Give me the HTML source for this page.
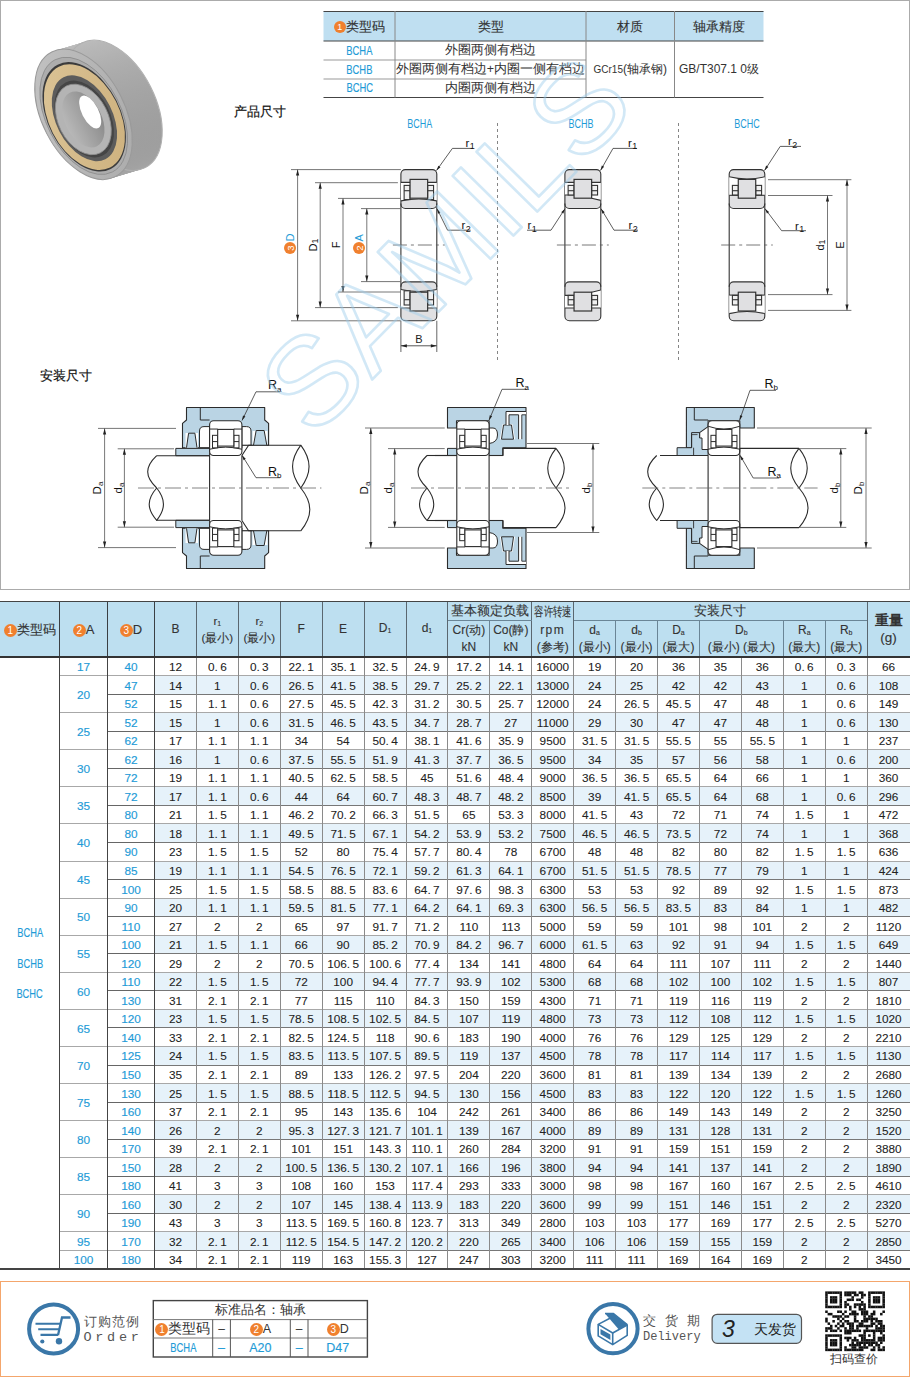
<!DOCTYPE html><html><head><meta charset="utf-8"><style>
*{box-sizing:border-box;margin:0;padding:0}
html,body{width:910px;height:1377px;overflow:hidden;background:#fff}
body{position:relative;font-family:"Liberation Sans",sans-serif;color:#222}
.a{position:absolute}
.cn{-webkit-text-stroke:0;display:inline-block;border-radius:50%;background:#f0802e;color:#fff;text-align:center;font-weight:normal;vertical-align:middle;font-family:"Liberation Sans",sans-serif}
.cell{position:absolute;display:flex;align-items:center;justify-content:center;text-align:center;white-space:nowrap}
.cd{display:inline-block;transform:scaleX(0.75)}
.hd{font-size:12.5px;color:#333;line-height:17px;-webkit-text-stroke:0.12px #333}
.dt{font-size:11.8px;color:#222;padding-top:1.5px;-webkit-text-stroke:0.08px #222}
.bl{color:#1e9bd7;-webkit-text-stroke:0.15px #1e9bd7}
</style></head><body><div class="a" style="left:0;top:0;width:910px;height:590px;border:1px solid #ababab"></div>
<svg class="a" style="left:0;top:0" width="910" height="110"><rect x="323.5" y="11" width="440.0" height="30" fill="#bfdff1"/><line x1="323.5" y1="11.5" x2="763.5" y2="11.5" stroke="#444" stroke-width="1.2"/><line x1="323.5" y1="41" x2="763.5" y2="41" stroke="#444" stroke-width="1.2"/><line x1="323.5" y1="97.5" x2="763.5" y2="97.5" stroke="#444" stroke-width="1.2"/><line x1="323.5" y1="60" x2="586" y2="60" stroke="#999" stroke-width="1"/><line x1="323.5" y1="79" x2="586" y2="79" stroke="#999" stroke-width="1"/><line x1="395" y1="11" x2="395" y2="97.5" stroke="#888" stroke-width="1"/><line x1="586" y1="11" x2="586" y2="97.5" stroke="#888" stroke-width="1"/><line x1="674.5" y1="11" x2="674.5" y2="97.5" stroke="#888" stroke-width="1"/></svg>
<div class="cell hd" style="left:323.5px;top:11px;width:71.5px;height:30px;font-size:13px"><div><span class="cn" style="width:12px;height:12px;line-height:12px;font-size:9px">1</span>类型码</div></div>
<div class="cell hd" style="left:395px;top:11px;width:191px;height:30px;font-size:13px"><div>类型</div></div>
<div class="cell hd" style="left:586px;top:11px;width:88.5px;height:30px;font-size:13px"><div>材质</div></div>
<div class="cell hd" style="left:674.5px;top:11px;width:89.0px;height:30px;font-size:13px"><div>轴承精度</div></div>
<div class="cell bl" style="left:323.5px;top:41px;width:71.5px;height:19px;font-size:12.5px"><div><span class="cd">BCHA</span></div></div>
<div class="cell " style="left:395px;top:41px;width:191px;height:19px;font-size:12.5px;color:#333"><div>外圈两侧有档边</div></div>
<div class="cell bl" style="left:323.5px;top:60px;width:71.5px;height:19px;font-size:12.5px"><div><span class="cd">BCHB</span></div></div>
<div class="cell " style="left:395px;top:60px;width:191px;height:19px;font-size:12.5px;color:#333"><div>外圈两侧有档边+内圈一侧有档边</div></div>
<div class="cell bl" style="left:323.5px;top:79px;width:71.5px;height:18.5px;font-size:12.5px"><div><span class="cd">BCHC</span></div></div>
<div class="cell " style="left:395px;top:79px;width:191px;height:18.5px;font-size:12.5px;color:#333"><div>内圈两侧有档边</div></div>
<div class="cell " style="left:586px;top:41px;width:88.5px;height:56.5px;font-size:12px;color:#333"><div><span style="font-size:10px">GCr15</span>(轴承钢)</div></div>
<div class="cell " style="left:674.5px;top:41px;width:89.0px;height:56.5px;font-size:12px;color:#333"><div>GB/T307.1 0级</div></div>
<svg class="a" style="left:0;top:0" width="910" height="600" font-family="Liberation Sans, sans-serif"><text x="419.7" y="127.8" font-size="12" fill="#1e9bd7" text-anchor="middle" transform="translate(419.7,0) scale(0.75,1) translate(-419.7,0)">BCHA</text><text x="581" y="127.8" font-size="12" fill="#1e9bd7" text-anchor="middle" transform="translate(581,0) scale(0.75,1) translate(-581,0)">BCHB</text><text x="747" y="127.8" font-size="12" fill="#1e9bd7" text-anchor="middle" transform="translate(747,0) scale(0.75,1) translate(-747,0)">BCHC</text><line x1="497.50" y1="123.00" x2="497.50" y2="360.00" stroke="#777" stroke-width="0.9" stroke-dasharray="3,3"/><line x1="678.50" y1="123.00" x2="678.50" y2="360.00" stroke="#777" stroke-width="0.9" stroke-dasharray="3,3"/><rect x="400.90" y="169.60" width="35.90" height="38.90" rx="4.5" ry="4.5" fill="#e0e0e2" stroke="#333" stroke-width="1.1"/><path d="M400.90,182.40 L436.80,182.40 L436.80,200.90 Q418.85,197.00 400.90,200.90 Z" fill="#fff" stroke="none" stroke-width="0" stroke-linejoin="round" /><line x1="400.90" y1="182.40" x2="436.80" y2="182.40" stroke="#333" stroke-width="1.1" /><path d="M400.90,200.90 Q418.85,197.00 436.80,200.90" fill="none" stroke="#333" stroke-width="1.1" stroke-linejoin="round" /><rect x="404.13" y="185.40" width="5.92" height="14.20" fill="#f0f0f0" stroke="#333" stroke-width="1.1"/><line x1="404.13" y1="190.70" x2="410.05" y2="190.70" stroke="#333" stroke-width="1.1" /><rect x="427.65" y="185.40" width="5.92" height="14.20" fill="#f0f0f0" stroke="#333" stroke-width="1.1"/><line x1="427.65" y1="190.70" x2="433.57" y2="190.70" stroke="#333" stroke-width="1.1" /><rect x="410.05" y="179.40" width="17.59" height="18.80" fill="#e0e0e2" stroke="#333" stroke-width="1.2"/><rect x="400.90" y="281.90" width="35.90" height="38.90" rx="4.5" ry="4.5" fill="#e0e0e2" stroke="#333" stroke-width="1.1"/><path d="M400.90,308.00 L436.80,308.00 L436.80,289.50 Q418.85,293.40 400.90,289.50 Z" fill="#fff" stroke="none" stroke-width="0" stroke-linejoin="round" /><line x1="400.90" y1="308.00" x2="436.80" y2="308.00" stroke="#333" stroke-width="1.1" /><path d="M400.90,289.50 Q418.85,293.40 436.80,289.50" fill="none" stroke="#333" stroke-width="1.1" stroke-linejoin="round" /><rect x="404.13" y="290.80" width="5.92" height="14.20" fill="#f0f0f0" stroke="#333" stroke-width="1.1"/><line x1="404.13" y1="299.70" x2="410.05" y2="299.70" stroke="#333" stroke-width="1.1" /><rect x="427.65" y="290.80" width="5.92" height="14.20" fill="#f0f0f0" stroke="#333" stroke-width="1.1"/><line x1="427.65" y1="299.70" x2="433.57" y2="299.70" stroke="#333" stroke-width="1.1" /><rect x="410.05" y="292.20" width="17.59" height="18.80" fill="#e0e0e2" stroke="#333" stroke-width="1.2"/><line x1="400.90" y1="203.60" x2="400.90" y2="286.80" stroke="#333" stroke-width="1.1" /><line x1="436.80" y1="203.60" x2="436.80" y2="286.80" stroke="#333" stroke-width="1.1" /><line x1="392.90" y1="245.00" x2="444.80" y2="245.00" stroke="#555" stroke-width="0.8" stroke-dasharray="14,4,3,4"/><line x1="291.00" y1="169.60" x2="400.90" y2="169.60" stroke="#666" stroke-width="0.9" /><line x1="291.00" y1="320.80" x2="400.90" y2="320.80" stroke="#666" stroke-width="0.9" /><line x1="297.60" y1="169.60" x2="297.60" y2="320.80" stroke="#555" stroke-width="0.8" /><path d="M297.60,169.60 L299.20,175.60 L296.00,175.60 Z" fill="#222"/><path d="M297.60,320.80 L296.00,314.80 L299.20,314.80 Z" fill="#222"/><line x1="315.00" y1="182.70" x2="397.90" y2="182.70" stroke="#666" stroke-width="0.9" /><line x1="315.00" y1="307.60" x2="397.90" y2="307.60" stroke="#666" stroke-width="0.9" /><line x1="320.20" y1="182.70" x2="320.20" y2="307.60" stroke="#555" stroke-width="0.8" /><path d="M320.20,182.70 L321.80,188.70 L318.60,188.70 Z" fill="#222"/><path d="M320.20,307.60 L318.60,301.60 L321.80,301.60 Z" fill="#222"/><line x1="338.00" y1="198.40" x2="400.90" y2="198.40" stroke="#666" stroke-width="0.9" /><line x1="338.00" y1="292.00" x2="400.90" y2="292.00" stroke="#666" stroke-width="0.9" /><line x1="343.00" y1="198.40" x2="343.00" y2="292.00" stroke="#555" stroke-width="0.8" /><path d="M343.00,198.40 L344.60,204.40 L341.40,204.40 Z" fill="#222"/><path d="M343.00,292.00 L341.40,286.00 L344.60,286.00 Z" fill="#222"/><line x1="361.00" y1="208.60" x2="400.90" y2="208.60" stroke="#666" stroke-width="0.9" /><line x1="361.00" y1="281.60" x2="400.90" y2="281.60" stroke="#666" stroke-width="0.9" /><line x1="366.80" y1="208.60" x2="366.80" y2="281.60" stroke="#555" stroke-width="0.8" /><path d="M366.80,208.60 L368.40,214.60 L365.20,214.60 Z" fill="#222"/><path d="M366.80,281.60 L365.20,275.60 L368.40,275.60 Z" fill="#222"/><line x1="400.90" y1="320.80" x2="400.90" y2="352.00" stroke="#555" stroke-width="0.9" /><line x1="436.80" y1="320.80" x2="436.80" y2="352.00" stroke="#555" stroke-width="0.9" /><line x1="400.90" y1="345.80" x2="436.80" y2="345.80" stroke="#444" stroke-width="0.9" /><path d="M400.90,345.80 L406.90,344.20 L406.90,347.40 Z" fill="#222"/><path d="M436.80,345.80 L430.80,347.40 L430.80,344.20 Z" fill="#222"/><text x="418.80" y="343.00" font-size="11" fill="#222" text-anchor="middle" >B</text><g transform="translate(290,244) rotate(-90)"><circle cx="-4" cy="0" r="6" fill="#f0802e"/><text x="-4" y="3.6" font-size="9.5" fill="#fff" text-anchor="middle">3</text><text x="2.5" y="4" font-size="11" fill="#1e9bd7">D</text></g><text x="0" y="0" transform="translate(317.00,245.00) rotate(-90)" font-size="11" fill="#111" text-anchor="middle" >D<tspan font-size="9" dy="1.2">1</tspan></text><text x="0" y="0" transform="translate(339.50,245.00) rotate(-90)" font-size="11" fill="#111" text-anchor="middle" >F</text><g transform="translate(359,243) rotate(-90)"><circle cx="-5" cy="0" r="6" fill="#f0802e"/><text x="-5" y="3.6" font-size="9.5" fill="#fff" text-anchor="middle">2</text><text x="1.5" y="4" font-size="11" fill="#1e9bd7">A</text></g><line x1="436.50" y1="170.50" x2="452.40" y2="148.40" stroke="#333" stroke-width="0.8" /><line x1="452.40" y1="148.40" x2="472.30" y2="148.40" stroke="#333" stroke-width="0.8" /><path d="M436.50,170.50 L438.36,165.68 L440.48,167.20 Z" fill="#222"/><text x="465.50" y="146.80" font-size="11.5" fill="#111">r<tspan font-size="9" dx="0.5" dy="2.5">1</tspan></text><line x1="437.00" y1="208.70" x2="447.60" y2="230.20" stroke="#333" stroke-width="0.8" /><line x1="447.60" y1="230.20" x2="470.70" y2="230.20" stroke="#333" stroke-width="0.8" /><path d="M437.00,208.70 L440.38,212.61 L438.05,213.76 Z" fill="#222"/><text x="461.50" y="229.00" font-size="11.5" fill="#111">r<tspan font-size="9" dx="0.5" dy="2.5">2</tspan></text><rect x="564.90" y="169.60" width="35.90" height="38.90" rx="4.5" ry="4.5" fill="#e0e0e2" stroke="#333" stroke-width="1.1"/><path d="M564.90,182.40 L600.80,182.40 L600.80,200.40 L591.65,198.20 L574.05,198.20 L574.05,195.00 L564.90,195.00 Z" fill="#fff" stroke="none" stroke-width="0" stroke-linejoin="round" /><line x1="564.90" y1="182.40" x2="600.80" y2="182.40" stroke="#333" stroke-width="1.1" /><path d="M564.90,195.00 L574.05,195.00 M591.65,198.20 L600.80,200.40" fill="none" stroke="#333" stroke-width="1.1" stroke-linejoin="round" /><rect x="568.13" y="185.40" width="5.92" height="9.60" fill="#f0f0f0" stroke="#333" stroke-width="1.1"/><line x1="568.13" y1="190.70" x2="574.05" y2="190.70" stroke="#333" stroke-width="1.1" /><rect x="591.65" y="185.40" width="5.92" height="9.60" fill="#f0f0f0" stroke="#333" stroke-width="1.1"/><line x1="591.65" y1="190.70" x2="597.57" y2="190.70" stroke="#333" stroke-width="1.1" /><rect x="574.05" y="179.40" width="17.59" height="18.80" fill="#e0e0e2" stroke="#333" stroke-width="1.2"/><rect x="564.90" y="281.90" width="35.90" height="38.90" rx="4.5" ry="4.5" fill="#e0e0e2" stroke="#333" stroke-width="1.1"/><path d="M564.90,308.00 L600.80,308.00 L600.80,290.00 L591.65,292.20 L574.05,292.20 L574.05,295.40 L564.90,295.40 Z" fill="#fff" stroke="none" stroke-width="0" stroke-linejoin="round" /><line x1="564.90" y1="308.00" x2="600.80" y2="308.00" stroke="#333" stroke-width="1.1" /><path d="M564.90,295.40 L574.05,295.40 M591.65,292.20 L600.80,290.00" fill="none" stroke="#333" stroke-width="1.1" stroke-linejoin="round" /><rect x="568.13" y="295.40" width="5.92" height="9.60" fill="#f0f0f0" stroke="#333" stroke-width="1.1"/><line x1="568.13" y1="299.70" x2="574.05" y2="299.70" stroke="#333" stroke-width="1.1" /><rect x="591.65" y="295.40" width="5.92" height="9.60" fill="#f0f0f0" stroke="#333" stroke-width="1.1"/><line x1="591.65" y1="299.70" x2="597.57" y2="299.70" stroke="#333" stroke-width="1.1" /><rect x="574.05" y="292.20" width="17.59" height="18.80" fill="#e0e0e2" stroke="#333" stroke-width="1.2"/><line x1="564.90" y1="203.60" x2="564.90" y2="286.80" stroke="#333" stroke-width="1.1" /><line x1="600.80" y1="203.60" x2="600.80" y2="286.80" stroke="#333" stroke-width="1.1" /><line x1="556.90" y1="245.00" x2="608.80" y2="245.00" stroke="#555" stroke-width="0.8" stroke-dasharray="14,4,3,4"/><line x1="600.50" y1="170.50" x2="613.00" y2="148.40" stroke="#333" stroke-width="0.8" /><line x1="613.00" y1="148.40" x2="637.00" y2="148.40" stroke="#333" stroke-width="0.8" /><path d="M600.50,170.50 L601.83,165.51 L604.09,166.79 Z" fill="#222"/><text x="628.00" y="146.80" font-size="11.5" fill="#111">r<tspan font-size="9" dx="0.5" dy="2.5">1</tspan></text><line x1="565.00" y1="208.70" x2="551.00" y2="230.20" stroke="#333" stroke-width="0.8" /><line x1="551.00" y1="230.20" x2="527.00" y2="230.20" stroke="#333" stroke-width="0.8" /><path d="M565.00,208.70 L563.36,213.60 L561.18,212.18 Z" fill="#222"/><text x="527.50" y="229.00" font-size="11.5" fill="#111">r<tspan font-size="9" dx="0.5" dy="2.5">1</tspan></text><line x1="601.00" y1="208.70" x2="614.00" y2="230.20" stroke="#333" stroke-width="0.8" /><line x1="614.00" y1="230.20" x2="638.00" y2="230.20" stroke="#333" stroke-width="0.8" /><path d="M601.00,208.70 L604.70,212.31 L602.47,213.65 Z" fill="#222"/><text x="628.50" y="229.00" font-size="11.5" fill="#111">r<tspan font-size="9" dx="0.5" dy="2.5">2</tspan></text><rect x="729.20" y="169.60" width="35.60" height="38.90" rx="4.5" ry="4.5" fill="#e0e0e2" stroke="#333" stroke-width="1.1"/><path d="M729.20,176.80 Q747.00,181.10 764.80,176.80 L764.80,195.30 L729.20,195.30 Z" fill="#fff" stroke="none" stroke-width="0" stroke-linejoin="round" /><path d="M729.20,176.80 Q747.00,181.10 764.80,176.80" fill="none" stroke="#333" stroke-width="1.1" stroke-linejoin="round" /><line x1="729.20" y1="195.30" x2="738.28" y2="195.30" stroke="#333" stroke-width="1.1" /><line x1="755.72" y1="195.30" x2="764.80" y2="195.30" stroke="#333" stroke-width="1.1" /><rect x="732.40" y="185.40" width="5.87" height="9.60" fill="#f0f0f0" stroke="#333" stroke-width="1.1"/><line x1="732.40" y1="190.70" x2="738.28" y2="190.70" stroke="#333" stroke-width="1.1" /><rect x="755.72" y="185.40" width="5.87" height="9.60" fill="#f0f0f0" stroke="#333" stroke-width="1.1"/><line x1="755.72" y1="190.70" x2="761.60" y2="190.70" stroke="#333" stroke-width="1.1" /><rect x="738.28" y="179.40" width="17.44" height="18.80" fill="#e0e0e2" stroke="#333" stroke-width="1.2"/><rect x="729.20" y="281.90" width="35.60" height="38.90" rx="4.5" ry="4.5" fill="#e0e0e2" stroke="#333" stroke-width="1.1"/><path d="M729.20,313.60 Q747.00,309.30 764.80,313.60 L764.80,295.10 L729.20,295.10 Z" fill="#fff" stroke="none" stroke-width="0" stroke-linejoin="round" /><path d="M729.20,313.60 Q747.00,309.30 764.80,313.60" fill="none" stroke="#333" stroke-width="1.1" stroke-linejoin="round" /><line x1="729.20" y1="295.10" x2="738.28" y2="295.10" stroke="#333" stroke-width="1.1" /><line x1="755.72" y1="295.10" x2="764.80" y2="295.10" stroke="#333" stroke-width="1.1" /><rect x="732.40" y="295.40" width="5.87" height="9.60" fill="#f0f0f0" stroke="#333" stroke-width="1.1"/><line x1="732.40" y1="299.70" x2="738.28" y2="299.70" stroke="#333" stroke-width="1.1" /><rect x="755.72" y="295.40" width="5.87" height="9.60" fill="#f0f0f0" stroke="#333" stroke-width="1.1"/><line x1="755.72" y1="299.70" x2="761.60" y2="299.70" stroke="#333" stroke-width="1.1" /><rect x="738.28" y="292.20" width="17.44" height="18.80" fill="#e0e0e2" stroke="#333" stroke-width="1.2"/><line x1="729.20" y1="203.60" x2="729.20" y2="286.80" stroke="#333" stroke-width="1.1" /><line x1="764.80" y1="203.60" x2="764.80" y2="286.80" stroke="#333" stroke-width="1.1" /><line x1="721.20" y1="245.00" x2="772.80" y2="245.00" stroke="#555" stroke-width="0.8" stroke-dasharray="14,4,3,4"/><line x1="764.50" y1="170.50" x2="780.20" y2="146.40" stroke="#333" stroke-width="0.8" /><line x1="780.20" y1="146.40" x2="801.00" y2="146.40" stroke="#333" stroke-width="0.8" /><path d="M764.50,170.50 L766.14,165.60 L768.32,167.02 Z" fill="#222"/><text x="788.00" y="145.00" font-size="11.5" fill="#111">r<tspan font-size="9" dx="0.5" dy="2.5">2</tspan></text><line x1="765.00" y1="208.70" x2="781.60" y2="230.70" stroke="#333" stroke-width="0.8" /><line x1="781.60" y1="230.70" x2="806.00" y2="230.70" stroke="#333" stroke-width="0.8" /><path d="M765.00,208.70 L769.05,211.91 L766.97,213.47 Z" fill="#222"/><text x="795.00" y="229.50" font-size="11.5" fill="#111">r<tspan font-size="9" dx="0.5" dy="2.5">1</tspan></text><line x1="768.00" y1="179.70" x2="851.40" y2="179.70" stroke="#666" stroke-width="0.9" /><line x1="768.00" y1="310.40" x2="851.40" y2="310.40" stroke="#666" stroke-width="0.9" /><line x1="847.00" y1="179.70" x2="847.00" y2="310.40" stroke="#555" stroke-width="0.8" /><path d="M847.00,179.70 L848.60,185.70 L845.40,185.70 Z" fill="#222"/><path d="M847.00,310.40 L845.40,304.40 L848.60,304.40 Z" fill="#222"/><line x1="768.00" y1="195.50" x2="832.50" y2="195.50" stroke="#666" stroke-width="0.9" /><line x1="768.00" y1="294.60" x2="832.50" y2="294.60" stroke="#666" stroke-width="0.9" /><line x1="827.50" y1="195.50" x2="827.50" y2="294.60" stroke="#555" stroke-width="0.8" /><path d="M827.50,195.50 L829.10,201.50 L825.90,201.50 Z" fill="#222"/><path d="M827.50,294.60 L825.90,288.60 L829.10,288.60 Z" fill="#222"/><text x="0" y="0" transform="translate(823.50,245.00) rotate(-90)" font-size="11" fill="#111" text-anchor="middle" >d<tspan font-size="9" dy="1.2">1</tspan></text><text x="0" y="0" transform="translate(843.50,245.00) rotate(-90)" font-size="11" fill="#111" text-anchor="middle" >E</text></svg>
<svg class="a" style="left:0;top:0" width="910" height="600" font-family="Liberation Sans, sans-serif"><path d="M186.5,407.5 H264.7 V420 L268.6,423.4 V445.2 H241.9 V447.7 H182.5 V423.4 L186.5,420 Z" fill="#bad4e4" stroke="#2b2b2b" stroke-width="1.1" stroke-linejoin="round" /><path d="M200.3,407.5 V420 H209.6" fill="none" stroke="#2b2b2b" stroke-width="1.0" stroke-linejoin="round" /><path d="M209.6,426.6 H204 Q199.5,426.6 199.5,431 V447.7 H209.6 Z" fill="#fff" stroke="#2b2b2b" stroke-width="1.0" stroke-linejoin="round" /><path d="M241.9,426.6 H246.5 Q251,426.6 251,431 V445.2 H241.9 Z" fill="#fff" stroke="#2b2b2b" stroke-width="1.0" stroke-linejoin="round" /><path d="M185.5,447.7 V433 H198 V447.7" fill="#fff" stroke="none" stroke-width="0" stroke-linejoin="round" /><path d="M186.50,447.70 L188.60,433.20 L194.90,433.20 L197.00,447.70" fill="#bad4e4" stroke="#2b2b2b" stroke-width="1.0" stroke-linejoin="round" /><path d="M252.5,445.2 V431 H267.5 V445.2" fill="#fff" stroke="none" stroke-width="0" stroke-linejoin="round" /><path d="M253.50,445.20 L256.16,430.50 L264.14,430.50 L266.80,445.20" fill="#bad4e4" stroke="#2b2b2b" stroke-width="1.0" stroke-linejoin="round" /><path d="M175.8,448.4 H209.6 V455.7 H175.8 Z" fill="#bad4e4" stroke="#2b2b2b" stroke-width="1.0" stroke-linejoin="round" /><rect x="209.60" y="420.70" width="32.30" height="34.80" rx="4" ry="4" fill="#fff" stroke="#2b2b2b" stroke-width="1.1"/><line x1="209.60" y1="429.05" x2="217.68" y2="429.05" stroke="#2b2b2b" stroke-width="1.0" /><line x1="233.82" y1="429.05" x2="241.90" y2="429.05" stroke="#2b2b2b" stroke-width="1.0" /><path d="M209.60,449.24 Q225.75,445.06 241.90,449.24" fill="none" stroke="#2b2b2b" stroke-width="1.0" stroke-linejoin="round" /><rect x="212.51" y="435.32" width="5.17" height="12.53" fill="#fff" stroke="#2b2b2b" stroke-width="1.0"/><line x1="212.51" y1="441.58" x2="217.68" y2="441.58" stroke="#2b2b2b" stroke-width="1.0" /><rect x="233.82" y="435.32" width="5.17" height="12.53" fill="#fff" stroke="#2b2b2b" stroke-width="1.0"/><line x1="233.82" y1="441.58" x2="238.99" y2="441.58" stroke="#2b2b2b" stroke-width="1.0" /><rect x="217.68" y="429.40" width="16.15" height="16.70" fill="#fff" stroke="#2b2b2b" stroke-width="1.1"/><g transform="matrix(1,0,0,-1,0,976.0)"><path d="M186.5,407.5 H264.7 V420 L268.6,423.4 V445.2 H241.9 V447.7 H182.5 V423.4 L186.5,420 Z" fill="#bad4e4" stroke="#2b2b2b" stroke-width="1.1" stroke-linejoin="round" /><path d="M200.3,407.5 V420 H209.6" fill="none" stroke="#2b2b2b" stroke-width="1.0" stroke-linejoin="round" /><path d="M209.6,426.6 H204 Q199.5,426.6 199.5,431 V447.7 H209.6 Z" fill="#fff" stroke="#2b2b2b" stroke-width="1.0" stroke-linejoin="round" /><path d="M241.9,426.6 H246.5 Q251,426.6 251,431 V445.2 H241.9 Z" fill="#fff" stroke="#2b2b2b" stroke-width="1.0" stroke-linejoin="round" /><path d="M185.5,447.7 V433 H198 V447.7" fill="#fff" stroke="none" stroke-width="0" stroke-linejoin="round" /><path d="M186.50,447.70 L188.60,433.20 L194.90,433.20 L197.00,447.70" fill="#bad4e4" stroke="#2b2b2b" stroke-width="1.0" stroke-linejoin="round" /><path d="M252.5,445.2 V431 H267.5 V445.2" fill="#fff" stroke="none" stroke-width="0" stroke-linejoin="round" /><path d="M253.50,445.20 L256.16,430.50 L264.14,430.50 L266.80,445.20" fill="#bad4e4" stroke="#2b2b2b" stroke-width="1.0" stroke-linejoin="round" /><path d="M175.8,448.4 H209.6 V455.7 H175.8 Z" fill="#bad4e4" stroke="#2b2b2b" stroke-width="1.0" stroke-linejoin="round" /><rect x="209.60" y="420.70" width="32.30" height="34.80" rx="4" ry="4" fill="#fff" stroke="#2b2b2b" stroke-width="1.1"/><line x1="209.60" y1="429.05" x2="217.68" y2="429.05" stroke="#2b2b2b" stroke-width="1.0" /><line x1="233.82" y1="429.05" x2="241.90" y2="429.05" stroke="#2b2b2b" stroke-width="1.0" /><path d="M209.60,449.24 Q225.75,445.06 241.90,449.24" fill="none" stroke="#2b2b2b" stroke-width="1.0" stroke-linejoin="round" /><rect x="212.51" y="435.32" width="5.17" height="12.53" fill="#fff" stroke="#2b2b2b" stroke-width="1.0"/><line x1="212.51" y1="441.58" x2="217.68" y2="441.58" stroke="#2b2b2b" stroke-width="1.0" /><rect x="233.82" y="435.32" width="5.17" height="12.53" fill="#fff" stroke="#2b2b2b" stroke-width="1.0"/><line x1="233.82" y1="441.58" x2="238.99" y2="441.58" stroke="#2b2b2b" stroke-width="1.0" /><rect x="217.68" y="429.40" width="16.15" height="16.70" fill="#fff" stroke="#2b2b2b" stroke-width="1.1"/></g><line x1="156.70" y1="455.70" x2="209.60" y2="455.70" stroke="#2b2b2b" stroke-width="1.1" /><line x1="156.70" y1="520.30" x2="209.60" y2="520.30" stroke="#2b2b2b" stroke-width="1.1" /><path d="M241.9,455.5 L248.6,445.2 H300.8" fill="none" stroke="#2b2b2b" stroke-width="1.1" stroke-linejoin="round" /><path d="M241.9,520.5 L248.6,530.8 H300.8" fill="none" stroke="#2b2b2b" stroke-width="1.1" stroke-linejoin="round" /><line x1="209.60" y1="455.50" x2="209.60" y2="520.50" stroke="#2b2b2b" stroke-width="1.1" /><line x1="241.90" y1="455.50" x2="241.90" y2="520.50" stroke="#2b2b2b" stroke-width="1.1" /><path d="M156.70,455.70 C144.70,467.00 144.70,476.69 156.70,488.00" fill="none" stroke="#2b2b2b" stroke-width="1.1" stroke-linejoin="round" /><path d="M156.70,488.00 C146.70,499.31 146.70,508.99 156.70,520.30 C165.70,508.99 165.70,499.31 156.70,488.00" fill="none" stroke="#2b2b2b" stroke-width="1.1" stroke-linejoin="round" /><path d="M300.80,445.20 C289.80,460.18 289.80,473.02 300.80,488.00 C311.80,473.02 311.80,460.18 300.80,445.20" fill="none" stroke="#2b2b2b" stroke-width="1.1" stroke-linejoin="round" /><path d="M300.80,488.00 C312.80,502.98 312.80,515.82 300.80,530.80" fill="none" stroke="#2b2b2b" stroke-width="1.1" stroke-linejoin="round" /><line x1="138.00" y1="488.00" x2="321.40" y2="488.00" stroke="#666" stroke-width="0.8" stroke-dasharray="16,4,3,4"/><line x1="98.00" y1="428.40" x2="176.00" y2="428.40" stroke="#666" stroke-width="0.9" /><line x1="98.00" y1="547.60" x2="176.00" y2="547.60" stroke="#666" stroke-width="0.9" /><line x1="117.70" y1="448.80" x2="174.00" y2="448.80" stroke="#666" stroke-width="0.9" /><line x1="117.70" y1="527.20" x2="174.00" y2="527.20" stroke="#666" stroke-width="0.9" /><line x1="104.60" y1="428.40" x2="104.60" y2="547.60" stroke="#555" stroke-width="0.8" /><path d="M104.60,428.40 L106.20,434.40 L103.00,434.40 Z" fill="#222"/><path d="M104.60,547.60 L103.00,541.60 L106.20,541.60 Z" fill="#222"/><line x1="124.40" y1="448.80" x2="124.40" y2="527.20" stroke="#555" stroke-width="0.8" /><path d="M124.40,448.80 L126.00,454.80 L122.80,454.80 Z" fill="#222"/><path d="M124.40,527.20 L122.80,521.20 L126.00,521.20 Z" fill="#222"/><text x="0" y="0" transform="translate(100.50,488.00) rotate(-90)" font-size="11.5" fill="#111" text-anchor="middle" >D<tspan font-size="8" dy="2">a</tspan></text><text x="0" y="0" transform="translate(121.50,488.00) rotate(-90)" font-size="11.5" fill="#111" text-anchor="middle" >d<tspan font-size="8" dy="2">a</tspan></text><line x1="242.00" y1="420.50" x2="256.00" y2="391.80" stroke="#333" stroke-width="0.8" /><line x1="256.00" y1="391.80" x2="280.00" y2="391.80" stroke="#333" stroke-width="0.8" /><path d="M242.00,420.50 L243.02,415.44 L245.36,416.58 Z" fill="#222"/><text x="268.00" y="389.00" font-size="12.5" fill="#111">R<tspan font-size="8" dy="2.5">a</tspan></text><line x1="242.00" y1="455.30" x2="256.00" y2="477.70" stroke="#333" stroke-width="0.8" /><line x1="256.00" y1="477.70" x2="280.00" y2="477.70" stroke="#333" stroke-width="0.8" /><path d="M242.00,455.30 L245.75,458.85 L243.55,460.23 Z" fill="#222"/><text x="268.00" y="475.50" font-size="12.5" fill="#111">R<tspan font-size="8" dy="2.5">b</tspan></text><path d="M447.5,407.5 H526 V447.7 H502.9 V455.5 H489.1 V420.7 H456.5 V428 H447.5 Z" fill="#bad4e4" stroke="#2b2b2b" stroke-width="1.1" stroke-linejoin="round" /><path d="M489.1,428 H493 Q497.5,428 497.5,435 Q497.5,442.5 489.1,443.5 Z" fill="#fff" stroke="#2b2b2b" stroke-width="1.0" stroke-linejoin="round" /><path d="M500,439.2 L502.5,424.2 H512.5 L515,439.2 Z" fill="#fff" stroke="none" stroke-width="0" stroke-linejoin="round" /><path d="M501.5,439.2 L503.5,425 H511.5 L513.5,439.2 Z" fill="#bad4e4" stroke="#2b2b2b" stroke-width="1.0" stroke-linejoin="round" /><path d="M506,425 V411.5 H526 V414.8 H521.8 V439.2 H518.6 V414.8 H509 V425 Z" fill="#fff" stroke="none" stroke-width="0" stroke-linejoin="round" /><path d="M506,425 V411.5 H526" fill="none" stroke="#2b2b2b" stroke-width="1.0" stroke-linejoin="round" /><path d="M509,425 V414.8 H518.6 V439.2" fill="none" stroke="#2b2b2b" stroke-width="1.0" stroke-linejoin="round" /><path d="M521.8,439.2 V414.8 H526" fill="none" stroke="#2b2b2b" stroke-width="0.9" stroke-linejoin="round" /><path d="M447.5,448.4 H456.8 V455.5 H447.5 Z" fill="#bad4e4" stroke="#2b2b2b" stroke-width="1.0" stroke-linejoin="round" /><rect x="456.80" y="420.70" width="32.30" height="34.80" rx="4" ry="4" fill="#fff" stroke="#2b2b2b" stroke-width="1.1"/><line x1="456.80" y1="429.05" x2="464.88" y2="429.05" stroke="#2b2b2b" stroke-width="1.0" /><line x1="481.03" y1="429.05" x2="489.10" y2="429.05" stroke="#2b2b2b" stroke-width="1.0" /><path d="M456.80,449.24 Q472.95,445.06 489.10,449.24" fill="none" stroke="#2b2b2b" stroke-width="1.0" stroke-linejoin="round" /><rect x="459.71" y="435.32" width="5.17" height="12.53" fill="#fff" stroke="#2b2b2b" stroke-width="1.0"/><line x1="459.71" y1="441.58" x2="464.88" y2="441.58" stroke="#2b2b2b" stroke-width="1.0" /><rect x="481.03" y="435.32" width="5.17" height="12.53" fill="#fff" stroke="#2b2b2b" stroke-width="1.0"/><line x1="481.03" y1="441.58" x2="486.19" y2="441.58" stroke="#2b2b2b" stroke-width="1.0" /><rect x="464.88" y="429.40" width="16.15" height="16.70" fill="#fff" stroke="#2b2b2b" stroke-width="1.1"/><g transform="matrix(1,0,0,-1,0,976.0)"><path d="M447.5,407.5 H526 V447.7 H502.9 V455.5 H489.1 V420.7 H456.5 V428 H447.5 Z" fill="#bad4e4" stroke="#2b2b2b" stroke-width="1.1" stroke-linejoin="round" /><path d="M489.1,428 H493 Q497.5,428 497.5,435 Q497.5,442.5 489.1,443.5 Z" fill="#fff" stroke="#2b2b2b" stroke-width="1.0" stroke-linejoin="round" /><path d="M500,439.2 L502.5,424.2 H512.5 L515,439.2 Z" fill="#fff" stroke="none" stroke-width="0" stroke-linejoin="round" /><path d="M501.5,439.2 L503.5,425 H511.5 L513.5,439.2 Z" fill="#bad4e4" stroke="#2b2b2b" stroke-width="1.0" stroke-linejoin="round" /><path d="M506,425 V411.5 H526 V414.8 H521.8 V439.2 H518.6 V414.8 H509 V425 Z" fill="#fff" stroke="none" stroke-width="0" stroke-linejoin="round" /><path d="M506,425 V411.5 H526" fill="none" stroke="#2b2b2b" stroke-width="1.0" stroke-linejoin="round" /><path d="M509,425 V414.8 H518.6 V439.2" fill="none" stroke="#2b2b2b" stroke-width="1.0" stroke-linejoin="round" /><path d="M521.8,439.2 V414.8 H526" fill="none" stroke="#2b2b2b" stroke-width="0.9" stroke-linejoin="round" /><path d="M447.5,448.4 H456.8 V455.5 H447.5 Z" fill="#bad4e4" stroke="#2b2b2b" stroke-width="1.0" stroke-linejoin="round" /><rect x="456.80" y="420.70" width="32.30" height="34.80" rx="4" ry="4" fill="#fff" stroke="#2b2b2b" stroke-width="1.1"/><line x1="456.80" y1="429.05" x2="464.88" y2="429.05" stroke="#2b2b2b" stroke-width="1.0" /><line x1="481.03" y1="429.05" x2="489.10" y2="429.05" stroke="#2b2b2b" stroke-width="1.0" /><path d="M456.80,449.24 Q472.95,445.06 489.10,449.24" fill="none" stroke="#2b2b2b" stroke-width="1.0" stroke-linejoin="round" /><rect x="459.71" y="435.32" width="5.17" height="12.53" fill="#fff" stroke="#2b2b2b" stroke-width="1.0"/><line x1="459.71" y1="441.58" x2="464.88" y2="441.58" stroke="#2b2b2b" stroke-width="1.0" /><rect x="481.03" y="435.32" width="5.17" height="12.53" fill="#fff" stroke="#2b2b2b" stroke-width="1.0"/><line x1="481.03" y1="441.58" x2="486.19" y2="441.58" stroke="#2b2b2b" stroke-width="1.0" /><rect x="464.88" y="429.40" width="16.15" height="16.70" fill="#fff" stroke="#2b2b2b" stroke-width="1.1"/></g><line x1="435.00" y1="455.50" x2="456.80" y2="455.50" stroke="#2b2b2b" stroke-width="1.1" /><line x1="435.00" y1="520.50" x2="456.80" y2="520.50" stroke="#2b2b2b" stroke-width="1.1" /><line x1="489.10" y1="455.50" x2="502.90" y2="455.50" stroke="#2b2b2b" stroke-width="1.1" /><line x1="489.10" y1="520.50" x2="502.90" y2="520.50" stroke="#2b2b2b" stroke-width="1.1" /><path d="M502.9,455.5 V448.4 H556" fill="none" stroke="#2b2b2b" stroke-width="1.1" stroke-linejoin="round" /><path d="M502.9,520.5 V527.6 H556" fill="none" stroke="#2b2b2b" stroke-width="1.1" stroke-linejoin="round" /><line x1="456.80" y1="455.50" x2="456.80" y2="520.50" stroke="#2b2b2b" stroke-width="1.1" /><line x1="489.10" y1="455.50" x2="489.10" y2="520.50" stroke="#2b2b2b" stroke-width="1.1" /><path d="M427.00,455.50 C415.00,466.88 415.00,476.62 427.00,488.00" fill="none" stroke="#2b2b2b" stroke-width="1.1" stroke-linejoin="round" /><path d="M427.00,488.00 C417.00,499.38 417.00,509.12 427.00,520.50 C436.00,509.12 436.00,499.38 427.00,488.00" fill="none" stroke="#2b2b2b" stroke-width="1.1" stroke-linejoin="round" /><path d="M556.00,448.40 C545.00,462.26 545.00,474.14 556.00,488.00 C567.00,474.14 567.00,462.26 556.00,448.40" fill="none" stroke="#2b2b2b" stroke-width="1.1" stroke-linejoin="round" /><path d="M556.00,488.00 C568.00,501.86 568.00,513.74 556.00,527.60" fill="none" stroke="#2b2b2b" stroke-width="1.1" stroke-linejoin="round" /><line x1="427.00" y1="455.50" x2="456.80" y2="455.50" stroke="#2b2b2b" stroke-width="1.1" /><line x1="427.00" y1="520.50" x2="456.80" y2="520.50" stroke="#2b2b2b" stroke-width="1.1" /><line x1="411.00" y1="488.00" x2="572.00" y2="488.00" stroke="#666" stroke-width="0.8" stroke-dasharray="16,4,3,4"/><line x1="365.00" y1="428.00" x2="444.70" y2="428.00" stroke="#666" stroke-width="0.9" /><line x1="365.00" y1="548.00" x2="444.70" y2="548.00" stroke="#666" stroke-width="0.9" /><line x1="388.00" y1="448.60" x2="444.70" y2="448.60" stroke="#666" stroke-width="0.9" /><line x1="388.00" y1="527.40" x2="444.70" y2="527.40" stroke="#666" stroke-width="0.9" /><line x1="527.00" y1="443.50" x2="599.30" y2="443.50" stroke="#666" stroke-width="0.9" /><line x1="527.00" y1="532.50" x2="599.30" y2="532.50" stroke="#666" stroke-width="0.9" /><line x1="370.80" y1="428.00" x2="370.80" y2="548.00" stroke="#555" stroke-width="0.8" /><path d="M370.80,428.00 L372.40,434.00 L369.20,434.00 Z" fill="#222"/><path d="M370.80,548.00 L369.20,542.00 L372.40,542.00 Z" fill="#222"/><line x1="394.70" y1="448.60" x2="394.70" y2="527.40" stroke="#555" stroke-width="0.8" /><path d="M394.70,448.60 L396.30,454.60 L393.10,454.60 Z" fill="#222"/><path d="M394.70,527.40 L393.10,521.40 L396.30,521.40 Z" fill="#222"/><line x1="593.00" y1="443.50" x2="593.00" y2="532.50" stroke="#555" stroke-width="0.8" /><path d="M593.00,443.50 L594.60,449.50 L591.40,449.50 Z" fill="#222"/><path d="M593.00,532.50 L591.40,526.50 L594.60,526.50 Z" fill="#222"/><text x="0" y="0" transform="translate(367.50,488.00) rotate(-90)" font-size="11.5" fill="#111" text-anchor="middle" >D<tspan font-size="8" dy="2">a</tspan></text><text x="0" y="0" transform="translate(391.50,488.00) rotate(-90)" font-size="11.5" fill="#111" text-anchor="middle" >d<tspan font-size="8" dy="2">a</tspan></text><text x="0" y="0" transform="translate(590.00,488.00) rotate(-90)" font-size="11.5" fill="#111" text-anchor="middle" >d<tspan font-size="8" dy="2">b</tspan></text><line x1="489.00" y1="420.30" x2="502.00" y2="389.30" stroke="#333" stroke-width="0.8" /><line x1="502.00" y1="389.30" x2="527.50" y2="389.30" stroke="#333" stroke-width="0.8" /><path d="M489.00,420.30 L489.73,415.19 L492.13,416.19 Z" fill="#222"/><text x="515.50" y="387.00" font-size="12.5" fill="#111">R<tspan font-size="8" dy="2.5">a</tspan></text><path d="M686.4,407.5 H754.3 V428 H739.8 V420.7 H708.1 V426.6 L699.6,432.6 V447.7 H686.4 Z" fill="#bad4e4" stroke="#2b2b2b" stroke-width="1.1" stroke-linejoin="round" /><path d="M694.3,407.5 V420 H708.1" fill="none" stroke="#2b2b2b" stroke-width="1.0" stroke-linejoin="round" /><path d="M677.1,447.7 H691.6 V432.6 H699.6 V438 H702 V449.5 H708.1 V455.5 H677.1 Z" fill="#bad4e4" stroke="#2b2b2b" stroke-width="1.0" stroke-linejoin="round" /><path d="M691.6,447.7 V434.6 H697.5" fill="none" stroke="#2b2b2b" stroke-width="0.8" stroke-linejoin="round" /><line x1="693.60" y1="447.70" x2="693.60" y2="455.50" stroke="#2b2b2b" stroke-width="0.9" /><rect x="708.10" y="420.70" width="31.70" height="34.80" rx="4" ry="4" fill="#fff" stroke="#2b2b2b" stroke-width="1.1"/><path d="M708.10,426.27 Q723.95,431.84 739.80,426.27" fill="none" stroke="#2b2b2b" stroke-width="1.0" stroke-linejoin="round" /><path d="M708.10,449.24 Q723.95,445.06 739.80,449.24" fill="none" stroke="#2b2b2b" stroke-width="1.0" stroke-linejoin="round" /><rect x="710.95" y="435.32" width="5.07" height="12.53" fill="#fff" stroke="#2b2b2b" stroke-width="1.0"/><line x1="710.95" y1="441.58" x2="716.02" y2="441.58" stroke="#2b2b2b" stroke-width="1.0" /><rect x="731.88" y="435.32" width="5.07" height="12.53" fill="#fff" stroke="#2b2b2b" stroke-width="1.0"/><line x1="731.88" y1="441.58" x2="736.95" y2="441.58" stroke="#2b2b2b" stroke-width="1.0" /><rect x="716.02" y="429.40" width="15.85" height="16.70" fill="#fff" stroke="#2b2b2b" stroke-width="1.1"/><g transform="matrix(1,0,0,-1,0,976.0)"><path d="M686.4,407.5 H754.3 V428 H739.8 V420.7 H708.1 V426.6 L699.6,432.6 V447.7 H686.4 Z" fill="#bad4e4" stroke="#2b2b2b" stroke-width="1.1" stroke-linejoin="round" /><path d="M694.3,407.5 V420 H708.1" fill="none" stroke="#2b2b2b" stroke-width="1.0" stroke-linejoin="round" /><path d="M677.1,447.7 H691.6 V432.6 H699.6 V438 H702 V449.5 H708.1 V455.5 H677.1 Z" fill="#bad4e4" stroke="#2b2b2b" stroke-width="1.0" stroke-linejoin="round" /><path d="M691.6,447.7 V434.6 H697.5" fill="none" stroke="#2b2b2b" stroke-width="0.8" stroke-linejoin="round" /><line x1="693.60" y1="447.70" x2="693.60" y2="455.50" stroke="#2b2b2b" stroke-width="0.9" /><rect x="708.10" y="420.70" width="31.70" height="34.80" rx="4" ry="4" fill="#fff" stroke="#2b2b2b" stroke-width="1.1"/><path d="M708.10,426.27 Q723.95,431.84 739.80,426.27" fill="none" stroke="#2b2b2b" stroke-width="1.0" stroke-linejoin="round" /><path d="M708.10,449.24 Q723.95,445.06 739.80,449.24" fill="none" stroke="#2b2b2b" stroke-width="1.0" stroke-linejoin="round" /><rect x="710.95" y="435.32" width="5.07" height="12.53" fill="#fff" stroke="#2b2b2b" stroke-width="1.0"/><line x1="710.95" y1="441.58" x2="716.02" y2="441.58" stroke="#2b2b2b" stroke-width="1.0" /><rect x="731.88" y="435.32" width="5.07" height="12.53" fill="#fff" stroke="#2b2b2b" stroke-width="1.0"/><line x1="731.88" y1="441.58" x2="736.95" y2="441.58" stroke="#2b2b2b" stroke-width="1.0" /><rect x="716.02" y="429.40" width="15.85" height="16.70" fill="#fff" stroke="#2b2b2b" stroke-width="1.1"/></g><line x1="660.00" y1="455.50" x2="708.10" y2="455.50" stroke="#2b2b2b" stroke-width="1.1" /><line x1="660.00" y1="520.50" x2="708.10" y2="520.50" stroke="#2b2b2b" stroke-width="1.1" /><line x1="739.80" y1="448.40" x2="799.00" y2="448.40" stroke="#2b2b2b" stroke-width="1.1" /><line x1="739.80" y1="527.60" x2="799.00" y2="527.60" stroke="#2b2b2b" stroke-width="1.1" /><line x1="708.10" y1="455.50" x2="708.10" y2="520.50" stroke="#2b2b2b" stroke-width="1.1" /><line x1="739.80" y1="448.40" x2="739.80" y2="527.60" stroke="#2b2b2b" stroke-width="1.1" /><path d="M656.70,455.50 C644.70,466.88 644.70,476.62 656.70,488.00" fill="none" stroke="#2b2b2b" stroke-width="1.1" stroke-linejoin="round" /><path d="M656.70,488.00 C646.70,499.38 646.70,509.12 656.70,520.50 C665.70,509.12 665.70,499.38 656.70,488.00" fill="none" stroke="#2b2b2b" stroke-width="1.1" stroke-linejoin="round" /><path d="M799.00,448.40 C788.00,462.26 788.00,474.14 799.00,488.00 C810.00,474.14 810.00,462.26 799.00,448.40" fill="none" stroke="#2b2b2b" stroke-width="1.1" stroke-linejoin="round" /><path d="M799.00,488.00 C811.00,501.86 811.00,513.74 799.00,527.60" fill="none" stroke="#2b2b2b" stroke-width="1.1" stroke-linejoin="round" /><line x1="642.30" y1="488.00" x2="817.60" y2="488.00" stroke="#666" stroke-width="0.8" stroke-dasharray="16,4,3,4"/><line x1="799.00" y1="448.60" x2="846.30" y2="448.60" stroke="#666" stroke-width="0.9" /><line x1="799.00" y1="527.40" x2="846.30" y2="527.40" stroke="#666" stroke-width="0.9" /><line x1="757.00" y1="428.00" x2="871.70" y2="428.00" stroke="#666" stroke-width="0.9" /><line x1="757.00" y1="548.00" x2="871.70" y2="548.00" stroke="#666" stroke-width="0.9" /><line x1="840.80" y1="448.60" x2="840.80" y2="527.40" stroke="#555" stroke-width="0.8" /><path d="M840.80,448.60 L842.40,454.60 L839.20,454.60 Z" fill="#222"/><path d="M840.80,527.40 L839.20,521.40 L842.40,521.40 Z" fill="#222"/><line x1="866.00" y1="428.00" x2="866.00" y2="548.00" stroke="#555" stroke-width="0.8" /><path d="M866.00,428.00 L867.60,434.00 L864.40,434.00 Z" fill="#222"/><path d="M866.00,548.00 L864.40,542.00 L867.60,542.00 Z" fill="#222"/><text x="0" y="0" transform="translate(837.50,488.00) rotate(-90)" font-size="11.5" fill="#111" text-anchor="middle" >d<tspan font-size="8" dy="2">b</tspan></text><text x="0" y="0" transform="translate(862.00,488.00) rotate(-90)" font-size="11.5" fill="#111" text-anchor="middle" >D<tspan font-size="8" dy="2">b</tspan></text><line x1="739.60" y1="420.30" x2="750.00" y2="390.30" stroke="#333" stroke-width="0.8" /><line x1="750.00" y1="390.30" x2="776.00" y2="390.30" stroke="#333" stroke-width="0.8" /><path d="M739.60,420.30 L740.01,415.15 L742.47,416.00 Z" fill="#222"/><text x="764.50" y="387.50" font-size="12.5" fill="#111">R<tspan font-size="8" dy="2.5">b</tspan></text><line x1="740.00" y1="455.30" x2="753.20" y2="478.00" stroke="#333" stroke-width="0.8" /><line x1="753.20" y1="478.00" x2="779.30" y2="478.00" stroke="#333" stroke-width="0.8" /><path d="M740.00,455.30 L743.64,458.97 L741.39,460.28 Z" fill="#222"/><text x="767.50" y="475.50" font-size="12.5" fill="#111">R<tspan font-size="8" dy="2.5">a</tspan></text></svg>
<svg class="a" style="left:0;top:0" width="200" height="200"><defs><linearGradient id="cyl" x1="0" y1="0" x2="1" y2="1"><stop offset="0" stop-color="#c8c8c8"/><stop offset="0.5" stop-color="#b4b4b4"/><stop offset="1" stop-color="#959595"/></linearGradient><linearGradient id="face" x1="0" y1="0" x2="1" y2="1"><stop offset="0" stop-color="#c4c4c4"/><stop offset="1" stop-color="#a9a9a9"/></linearGradient><linearGradient id="bore" x1="0" y1="0" x2="1" y2="0"><stop offset="0" stop-color="#b8b8b8"/><stop offset="1" stop-color="#8a8a8a"/></linearGradient><linearGradient id="gold" x1="0" y1="0" x2="1" y2="1"><stop offset="0" stop-color="#dcc598"/><stop offset="1" stop-color="#cdb07c"/></linearGradient></defs><ellipse cx="113.50" cy="105.30" rx="41.5" ry="70" transform="rotate(-27 113.50 105.30)" fill="url(#cyl)"/><ellipse cx="111.83" cy="105.80" rx="41.5" ry="70" transform="rotate(-27 111.83 105.80)" fill="url(#cyl)"/><ellipse cx="110.17" cy="106.30" rx="41.5" ry="70" transform="rotate(-27 110.17 106.30)" fill="url(#cyl)"/><ellipse cx="108.50" cy="106.80" rx="41.5" ry="70" transform="rotate(-27 108.50 106.80)" fill="url(#cyl)"/><ellipse cx="106.83" cy="107.30" rx="41.5" ry="70" transform="rotate(-27 106.83 107.30)" fill="url(#cyl)"/><ellipse cx="105.17" cy="107.80" rx="41.5" ry="70" transform="rotate(-27 105.17 107.80)" fill="url(#cyl)"/><ellipse cx="103.50" cy="108.30" rx="41.5" ry="70" transform="rotate(-27 103.50 108.30)" fill="url(#cyl)"/><ellipse cx="101.83" cy="108.80" rx="41.5" ry="70" transform="rotate(-27 101.83 108.80)" fill="url(#cyl)"/><ellipse cx="100.17" cy="109.30" rx="41.5" ry="70" transform="rotate(-27 100.17 109.30)" fill="url(#cyl)"/><ellipse cx="98.50" cy="109.80" rx="41.5" ry="70" transform="rotate(-27 98.50 109.80)" fill="url(#cyl)"/><ellipse cx="96.83" cy="110.30" rx="41.5" ry="70" transform="rotate(-27 96.83 110.30)" fill="url(#cyl)"/><ellipse cx="95.17" cy="110.80" rx="41.5" ry="70" transform="rotate(-27 95.17 110.80)" fill="url(#cyl)"/><ellipse cx="93.50" cy="111.30" rx="41.5" ry="70" transform="rotate(-27 93.50 111.30)" fill="url(#cyl)"/><ellipse cx="91.83" cy="111.80" rx="41.5" ry="70" transform="rotate(-27 91.83 111.80)" fill="url(#cyl)"/><ellipse cx="90.17" cy="112.30" rx="41.5" ry="70" transform="rotate(-27 90.17 112.30)" fill="url(#cyl)"/><ellipse cx="88.50" cy="112.80" rx="41.5" ry="70" transform="rotate(-27 88.50 112.80)" fill="url(#cyl)"/><ellipse cx="86.83" cy="113.30" rx="41.5" ry="70" transform="rotate(-27 86.83 113.30)" fill="url(#cyl)"/><ellipse cx="85.17" cy="113.80" rx="41.5" ry="70" transform="rotate(-27 85.17 113.80)" fill="url(#cyl)"/><ellipse cx="83.50" cy="114.30" rx="41.5" ry="70" transform="rotate(-27 83.50 114.30)" fill="url(#cyl)"/><ellipse cx="113.50" cy="105.30" rx="41.5" ry="70" transform="rotate(-27 113.50 105.30)" fill="none" stroke="#b0b0b0" stroke-width="1"/><g transform="rotate(-27 83.5 114.3)"><ellipse cx="83.5" cy="114.3" rx="41.5" ry="70" fill="url(#face)" stroke="#9a9a9a" stroke-width="1"/><ellipse cx="83.0" cy="115.8" rx="37.35" ry="63" fill="#adadad" stroke="#8c8c8c" stroke-width="0.8"/><ellipse cx="83.0" cy="116.8" rx="36.1" ry="58.5" fill="#3c3c3c"/><ellipse cx="83.0" cy="117.3" rx="35.27" ry="56.5" fill="url(#gold)"/><ellipse cx="82.5" cy="118.3" rx="28.22" ry="46" fill="#5c5c5c"/><ellipse cx="82.0" cy="118.8" rx="26.14" ry="41" fill="#454545"/><ellipse cx="81.0" cy="118.8" rx="24.9" ry="37.5" fill="#b4b4b4" stroke="#909090" stroke-width="0.8"/><ellipse cx="81.0" cy="118.8" rx="18.26" ry="30" fill="url(#bore)"/><ellipse cx="90.5" cy="115.3" rx="8.3" ry="18" fill="#fff"/></g></svg>
<svg class="a" style="left:0;top:0;pointer-events:none" width="910" height="600"><text x="0" y="0" transform="translate(445,244) rotate(-45.5)" font-family="Liberation Sans, sans-serif" font-size="124" text-anchor="middle" dominant-baseline="central" textLength="465" lengthAdjust="spacingAndGlyphs" fill="none" stroke="#9ccbec" stroke-opacity="0.45" stroke-width="2.6" stroke-linejoin="round">SAMILS</text></svg>
<div class="a" style="left:234px;top:104px;font-size:13px;line-height:16px;color:#111;-webkit-text-stroke:0.2px #111">产品尺寸</div>
<div class="a" style="left:40px;top:368px;font-size:13px;line-height:16px;color:#111;-webkit-text-stroke:0.2px #111">安装尺寸</div>
<svg class="a" style="left:0;top:0" width="910" height="1377" shape-rendering="crispEdges"><rect x="0" y="601.5" width="910" height="55.5" fill="#bddff0"/><rect x="154.5" y="675.5454545454545" width="755.5" height="18.545454545454547" fill="#e6f2fa"/><rect x="154.5" y="712.6363636363636" width="755.5" height="18.545454545454547" fill="#e6f2fa"/><rect x="154.5" y="749.7272727272727" width="755.5" height="18.545454545454547" fill="#e6f2fa"/><rect x="154.5" y="786.8181818181818" width="755.5" height="18.545454545454547" fill="#e6f2fa"/><rect x="154.5" y="823.909090909091" width="755.5" height="18.545454545454547" fill="#e6f2fa"/><rect x="154.5" y="861.0" width="755.5" height="18.545454545454547" fill="#e6f2fa"/><rect x="154.5" y="898.0909090909091" width="755.5" height="18.545454545454547" fill="#e6f2fa"/><rect x="154.5" y="935.1818181818182" width="755.5" height="18.545454545454547" fill="#e6f2fa"/><rect x="154.5" y="972.2727272727273" width="755.5" height="18.545454545454547" fill="#e6f2fa"/><rect x="154.5" y="1009.3636363636364" width="755.5" height="18.545454545454547" fill="#e6f2fa"/><rect x="154.5" y="1046.4545454545455" width="755.5" height="18.545454545454547" fill="#e6f2fa"/><rect x="154.5" y="1083.5454545454545" width="755.5" height="18.545454545454547" fill="#e6f2fa"/><rect x="154.5" y="1120.6363636363637" width="755.5" height="18.545454545454547" fill="#e6f2fa"/><rect x="154.5" y="1157.7272727272727" width="755.5" height="18.545454545454547" fill="#e6f2fa"/><rect x="154.5" y="1194.818181818182" width="755.5" height="18.545454545454547" fill="#e6f2fa"/><rect x="154.5" y="1231.909090909091" width="755.5" height="18.545454545454547" fill="#e6f2fa"/><line x1="59.5" y1="675.55" x2="154.5" y2="675.55" stroke="#a8a8a8" stroke-width="1"/><line x1="154.5" y1="675.55" x2="910" y2="675.55" stroke="#a8a8a8" stroke-width="1"/><line x1="107.5" y1="694.09" x2="154.5" y2="694.09" stroke="#666" stroke-width="1"/><line x1="154.5" y1="694.09" x2="910" y2="694.09" stroke="#777" stroke-width="1"/><line x1="59.5" y1="712.64" x2="154.5" y2="712.64" stroke="#a8a8a8" stroke-width="1"/><line x1="154.5" y1="712.64" x2="910" y2="712.64" stroke="#a8a8a8" stroke-width="1"/><line x1="107.5" y1="731.18" x2="154.5" y2="731.18" stroke="#666" stroke-width="1"/><line x1="154.5" y1="731.18" x2="910" y2="731.18" stroke="#777" stroke-width="1"/><line x1="59.5" y1="749.73" x2="154.5" y2="749.73" stroke="#a8a8a8" stroke-width="1"/><line x1="154.5" y1="749.73" x2="910" y2="749.73" stroke="#a8a8a8" stroke-width="1"/><line x1="107.5" y1="768.27" x2="154.5" y2="768.27" stroke="#666" stroke-width="1"/><line x1="154.5" y1="768.27" x2="910" y2="768.27" stroke="#777" stroke-width="1"/><line x1="59.5" y1="786.82" x2="154.5" y2="786.82" stroke="#a8a8a8" stroke-width="1"/><line x1="154.5" y1="786.82" x2="910" y2="786.82" stroke="#a8a8a8" stroke-width="1"/><line x1="107.5" y1="805.36" x2="154.5" y2="805.36" stroke="#666" stroke-width="1"/><line x1="154.5" y1="805.36" x2="910" y2="805.36" stroke="#777" stroke-width="1"/><line x1="59.5" y1="823.91" x2="154.5" y2="823.91" stroke="#a8a8a8" stroke-width="1"/><line x1="154.5" y1="823.91" x2="910" y2="823.91" stroke="#a8a8a8" stroke-width="1"/><line x1="107.5" y1="842.45" x2="154.5" y2="842.45" stroke="#666" stroke-width="1"/><line x1="154.5" y1="842.45" x2="910" y2="842.45" stroke="#777" stroke-width="1"/><line x1="59.5" y1="861.00" x2="154.5" y2="861.00" stroke="#a8a8a8" stroke-width="1"/><line x1="154.5" y1="861.00" x2="910" y2="861.00" stroke="#a8a8a8" stroke-width="1"/><line x1="107.5" y1="879.55" x2="154.5" y2="879.55" stroke="#666" stroke-width="1"/><line x1="154.5" y1="879.55" x2="910" y2="879.55" stroke="#777" stroke-width="1"/><line x1="59.5" y1="898.09" x2="154.5" y2="898.09" stroke="#a8a8a8" stroke-width="1"/><line x1="154.5" y1="898.09" x2="910" y2="898.09" stroke="#a8a8a8" stroke-width="1"/><line x1="107.5" y1="916.64" x2="154.5" y2="916.64" stroke="#666" stroke-width="1"/><line x1="154.5" y1="916.64" x2="910" y2="916.64" stroke="#777" stroke-width="1"/><line x1="59.5" y1="935.18" x2="154.5" y2="935.18" stroke="#a8a8a8" stroke-width="1"/><line x1="154.5" y1="935.18" x2="910" y2="935.18" stroke="#a8a8a8" stroke-width="1"/><line x1="107.5" y1="953.73" x2="154.5" y2="953.73" stroke="#666" stroke-width="1"/><line x1="154.5" y1="953.73" x2="910" y2="953.73" stroke="#777" stroke-width="1"/><line x1="59.5" y1="972.27" x2="154.5" y2="972.27" stroke="#a8a8a8" stroke-width="1"/><line x1="154.5" y1="972.27" x2="910" y2="972.27" stroke="#a8a8a8" stroke-width="1"/><line x1="107.5" y1="990.82" x2="154.5" y2="990.82" stroke="#666" stroke-width="1"/><line x1="154.5" y1="990.82" x2="910" y2="990.82" stroke="#777" stroke-width="1"/><line x1="59.5" y1="1009.36" x2="154.5" y2="1009.36" stroke="#a8a8a8" stroke-width="1"/><line x1="154.5" y1="1009.36" x2="910" y2="1009.36" stroke="#a8a8a8" stroke-width="1"/><line x1="107.5" y1="1027.91" x2="154.5" y2="1027.91" stroke="#666" stroke-width="1"/><line x1="154.5" y1="1027.91" x2="910" y2="1027.91" stroke="#777" stroke-width="1"/><line x1="59.5" y1="1046.45" x2="154.5" y2="1046.45" stroke="#a8a8a8" stroke-width="1"/><line x1="154.5" y1="1046.45" x2="910" y2="1046.45" stroke="#a8a8a8" stroke-width="1"/><line x1="107.5" y1="1065.00" x2="154.5" y2="1065.00" stroke="#666" stroke-width="1"/><line x1="154.5" y1="1065.00" x2="910" y2="1065.00" stroke="#777" stroke-width="1"/><line x1="59.5" y1="1083.55" x2="154.5" y2="1083.55" stroke="#a8a8a8" stroke-width="1"/><line x1="154.5" y1="1083.55" x2="910" y2="1083.55" stroke="#a8a8a8" stroke-width="1"/><line x1="107.5" y1="1102.09" x2="154.5" y2="1102.09" stroke="#666" stroke-width="1"/><line x1="154.5" y1="1102.09" x2="910" y2="1102.09" stroke="#777" stroke-width="1"/><line x1="59.5" y1="1120.64" x2="154.5" y2="1120.64" stroke="#a8a8a8" stroke-width="1"/><line x1="154.5" y1="1120.64" x2="910" y2="1120.64" stroke="#a8a8a8" stroke-width="1"/><line x1="107.5" y1="1139.18" x2="154.5" y2="1139.18" stroke="#666" stroke-width="1"/><line x1="154.5" y1="1139.18" x2="910" y2="1139.18" stroke="#777" stroke-width="1"/><line x1="59.5" y1="1157.73" x2="154.5" y2="1157.73" stroke="#a8a8a8" stroke-width="1"/><line x1="154.5" y1="1157.73" x2="910" y2="1157.73" stroke="#a8a8a8" stroke-width="1"/><line x1="107.5" y1="1176.27" x2="154.5" y2="1176.27" stroke="#666" stroke-width="1"/><line x1="154.5" y1="1176.27" x2="910" y2="1176.27" stroke="#777" stroke-width="1"/><line x1="59.5" y1="1194.82" x2="154.5" y2="1194.82" stroke="#a8a8a8" stroke-width="1"/><line x1="154.5" y1="1194.82" x2="910" y2="1194.82" stroke="#a8a8a8" stroke-width="1"/><line x1="107.5" y1="1213.36" x2="154.5" y2="1213.36" stroke="#666" stroke-width="1"/><line x1="154.5" y1="1213.36" x2="910" y2="1213.36" stroke="#777" stroke-width="1"/><line x1="59.5" y1="1231.91" x2="154.5" y2="1231.91" stroke="#a8a8a8" stroke-width="1"/><line x1="154.5" y1="1231.91" x2="910" y2="1231.91" stroke="#a8a8a8" stroke-width="1"/><line x1="59.5" y1="1250.45" x2="154.5" y2="1250.45" stroke="#a8a8a8" stroke-width="1"/><line x1="154.5" y1="1250.45" x2="910" y2="1250.45" stroke="#777" stroke-width="1"/><line x1="59.50" y1="657" x2="59.50" y2="1269" stroke="#444" stroke-width="1.3"/><line x1="107.50" y1="657" x2="107.50" y2="1269" stroke="#444" stroke-width="1.3"/><line x1="154.50" y1="657" x2="154.50" y2="1269" stroke="#444" stroke-width="1.3"/><line x1="196.42" y1="657" x2="196.42" y2="1269" stroke="#8a8a8a" stroke-width="1"/><line x1="238.34" y1="657" x2="238.34" y2="1269" stroke="#8a8a8a" stroke-width="1"/><line x1="280.26" y1="657" x2="280.26" y2="1269" stroke="#8a8a8a" stroke-width="1"/><line x1="322.18" y1="657" x2="322.18" y2="1269" stroke="#8a8a8a" stroke-width="1"/><line x1="364.10" y1="657" x2="364.10" y2="1269" stroke="#8a8a8a" stroke-width="1"/><line x1="406.02" y1="657" x2="406.02" y2="1269" stroke="#8a8a8a" stroke-width="1"/><line x1="447.94" y1="657" x2="447.94" y2="1269" stroke="#8a8a8a" stroke-width="1"/><line x1="489.86" y1="657" x2="489.86" y2="1269" stroke="#8a8a8a" stroke-width="1"/><line x1="531.78" y1="657" x2="531.78" y2="1269" stroke="#8a8a8a" stroke-width="1"/><line x1="573.70" y1="657" x2="573.70" y2="1269" stroke="#8a8a8a" stroke-width="1"/><line x1="615.62" y1="657" x2="615.62" y2="1269" stroke="#8a8a8a" stroke-width="1"/><line x1="657.54" y1="657" x2="657.54" y2="1269" stroke="#8a8a8a" stroke-width="1"/><line x1="699.46" y1="657" x2="699.46" y2="1269" stroke="#8a8a8a" stroke-width="1"/><line x1="741.38" y1="657" x2="741.38" y2="1269" stroke="#8a8a8a" stroke-width="1"/><line x1="783.30" y1="657" x2="783.30" y2="1269" stroke="#8a8a8a" stroke-width="1"/><line x1="825.22" y1="657" x2="825.22" y2="1269" stroke="#8a8a8a" stroke-width="1"/><line x1="867.14" y1="657" x2="867.14" y2="1269" stroke="#8a8a8a" stroke-width="1"/><line x1="59.50" y1="601.5" x2="59.50" y2="657" stroke="#3a3f44" stroke-width="1"/><line x1="107.50" y1="601.5" x2="107.50" y2="657" stroke="#3a3f44" stroke-width="1"/><line x1="154.50" y1="601.5" x2="154.50" y2="657" stroke="#3a3f44" stroke-width="1"/><line x1="196.42" y1="601.5" x2="196.42" y2="657" stroke="#5a6770" stroke-width="1"/><line x1="238.34" y1="601.5" x2="238.34" y2="657" stroke="#5a6770" stroke-width="1"/><line x1="280.26" y1="601.5" x2="280.26" y2="657" stroke="#5a6770" stroke-width="1"/><line x1="322.18" y1="601.5" x2="322.18" y2="657" stroke="#5a6770" stroke-width="1"/><line x1="364.10" y1="601.5" x2="364.10" y2="657" stroke="#5a6770" stroke-width="1"/><line x1="406.02" y1="601.5" x2="406.02" y2="657" stroke="#5a6770" stroke-width="1"/><line x1="447.94" y1="601.5" x2="447.94" y2="657" stroke="#5a6770" stroke-width="1"/><line x1="489.86" y1="620" x2="489.86" y2="657" stroke="#6a8596" stroke-width="1"/><line x1="531.78" y1="601.5" x2="531.78" y2="657" stroke="#5a6770" stroke-width="1"/><line x1="573.70" y1="601.5" x2="573.70" y2="657" stroke="#5a6770" stroke-width="1"/><line x1="615.62" y1="620" x2="615.62" y2="657" stroke="#6a8596" stroke-width="1"/><line x1="657.54" y1="620" x2="657.54" y2="657" stroke="#6a8596" stroke-width="1"/><line x1="699.46" y1="620" x2="699.46" y2="657" stroke="#6a8596" stroke-width="1"/><line x1="783.30" y1="620" x2="783.30" y2="657" stroke="#6a8596" stroke-width="1"/><line x1="825.22" y1="620" x2="825.22" y2="657" stroke="#6a8596" stroke-width="1"/><line x1="867.14" y1="601.5" x2="867.14" y2="657" stroke="#5a6770" stroke-width="1"/><line x1="447.94" y1="620" x2="531.78" y2="620" stroke="#6a8596" stroke-width="1"/><line x1="573.70" y1="620" x2="867.14" y2="620" stroke="#6a8596" stroke-width="1"/><line x1="0" y1="601.5" x2="910" y2="601.5" stroke="#444" stroke-width="1.3"/><line x1="0" y1="657" x2="910" y2="657" stroke="#333" stroke-width="1.3"/><line x1="0" y1="1269" x2="910" y2="1269" stroke="#444" stroke-width="1.3"/></svg>
<div class="cell hd" style="left:0px;top:601.5px;width:59.5px;height:55.5px;font-size:13px"><div><span class="cn" style="width:13px;height:13px;line-height:13px;font-size:10px">1</span>类型码</div></div>
<div class="cell hd" style="left:59.5px;top:601.5px;width:48.0px;height:55.5px;font-size:13px"><div><span class="cn" style="width:13px;height:13px;line-height:13px;font-size:10px">2</span>A</div></div>
<div class="cell hd" style="left:107.5px;top:601.5px;width:47.0px;height:55.5px;font-size:13px"><div><span class="cn" style="width:13px;height:13px;line-height:13px;font-size:10px">3</span>D</div></div>
<div class="cell hd" style="left:154.5px;top:601.5px;width:41.91999999999999px;height:55.5px;font-size:12px"><div>B</div></div>
<div class="cell hd" style="left:196.42px;top:601.5px;width:41.920000000000016px;height:55.5px;font-size:11.5px;line-height:14px;padding-top:1px"><div>r<sub style="font-size:7px;vertical-align:-1px">1</sub><br>(最小)</div></div>
<div class="cell hd" style="left:238.34px;top:601.5px;width:41.91999999999999px;height:55.5px;font-size:11.5px;line-height:14px;padding-top:1px"><div>r<sub style="font-size:7px;vertical-align:-1px">2</sub><br>(最小)</div></div>
<div class="cell hd" style="left:280.26px;top:601.5px;width:41.920000000000016px;height:55.5px;font-size:12px"><div>F</div></div>
<div class="cell hd" style="left:322.18px;top:601.5px;width:41.920000000000016px;height:55.5px;font-size:12px"><div>E</div></div>
<div class="cell hd" style="left:364.1px;top:601.5px;width:41.91999999999996px;height:55.5px;font-size:12px"><div>D<sub style="font-size:7px;vertical-align:-1px">1</sub></div></div>
<div class="cell hd" style="left:406.02px;top:601.5px;width:41.920000000000016px;height:55.5px;font-size:12px"><div>d<sub style="font-size:7px;vertical-align:-1px">1</sub></div></div>
<div class="cell hd" style="left:447.94px;top:601.5px;width:83.83999999999997px;height:18.5px;font-size:12.5px;padding-top:1px"><div>基本额定负载</div></div>
<div class="cell hd" style="left:447.94px;top:620px;width:41.920000000000016px;height:37px;font-size:12px"><div>Cr(动)<br>kN</div></div>
<div class="cell hd" style="left:489.86px;top:620px;width:41.91999999999996px;height:37px;font-size:12px"><div>Co(静)<br>kN</div></div>
<div class="cell hd" style="left:531.78px;top:601.5px;width:41.92000000000007px;height:21.5px;font-size:12.5px"><div><span style="display:inline-block;transform:scaleX(0.72)">容许转速</span></div></div>
<div class="cell hd" style="left:531.78px;top:620px;width:41.92000000000007px;height:37px;font-size:12px"><div><span style="letter-spacing:1.5px">rpm</span><br>(参考)</div></div>
<div class="cell hd" style="left:573.7px;top:601.5px;width:293.43999999999994px;height:18.5px;font-size:12.5px;padding-top:1px"><div>安装尺寸</div></div>
<div class="cell hd" style="left:573.7px;top:620px;width:41.91999999999996px;height:37px;font-size:12px;line-height:15px;padding-top:1px"><div>d<sub style="font-size:7px;vertical-align:-1px">a</sub><br>(最小)</div></div>
<div class="cell hd" style="left:615.62px;top:620px;width:41.91999999999996px;height:37px;font-size:12px;line-height:15px;padding-top:1px"><div>d<sub style="font-size:7px;vertical-align:-1px">b</sub><br>(最小)</div></div>
<div class="cell hd" style="left:657.54px;top:620px;width:41.92000000000007px;height:37px;font-size:12px;line-height:15px;padding-top:1px"><div>D<sub style="font-size:7px;vertical-align:-1px">a</sub><br>(最大)</div></div>
<div class="cell hd" style="left:699.46px;top:620px;width:83.83999999999992px;height:37px;font-size:12px;line-height:15px;padding-top:1px"><div>D<sub style="font-size:7px;vertical-align:-1px">b</sub><br>(最小) (最大)</div></div>
<div class="cell hd" style="left:783.3px;top:620px;width:41.92000000000007px;height:37px;font-size:12px;line-height:15px;padding-top:1px"><div>R<sub style="font-size:7px;vertical-align:-1px">a</sub><br>(最大)</div></div>
<div class="cell hd" style="left:825.22px;top:620px;width:41.91999999999996px;height:37px;font-size:12px;line-height:15px;padding-top:1px"><div>R<sub style="font-size:7px;vertical-align:-1px">b</sub><br>(最大)</div></div>
<div class="cell hd" style="left:867.14px;top:601.5px;width:42.860000000000014px;height:55.5px;font-size:13.5px"><div><b style="-webkit-text-stroke:0">重量</b><br>(g)</div></div>
<div class="cell dt bl" style="left:59.5px;top:657.0px;width:48.0px;height:18.549999999999955px;"><div>17</div></div><div class="cell dt bl" style="left:59.5px;top:675.55px;width:48.0px;height:37.09000000000003px;"><div>20</div></div><div class="cell dt bl" style="left:59.5px;top:712.64px;width:48.0px;height:37.09000000000003px;"><div>25</div></div><div class="cell dt bl" style="left:59.5px;top:749.73px;width:48.0px;height:37.09000000000003px;"><div>30</div></div><div class="cell dt bl" style="left:59.5px;top:786.82px;width:48.0px;height:37.08999999999992px;"><div>35</div></div><div class="cell dt bl" style="left:59.5px;top:823.91px;width:48.0px;height:37.09000000000003px;"><div>40</div></div><div class="cell dt bl" style="left:59.5px;top:861.0px;width:48.0px;height:37.09000000000003px;"><div>45</div></div><div class="cell dt bl" style="left:59.5px;top:898.09px;width:48.0px;height:37.08999999999992px;"><div>50</div></div><div class="cell dt bl" style="left:59.5px;top:935.18px;width:48.0px;height:37.09000000000003px;"><div>55</div></div><div class="cell dt bl" style="left:59.5px;top:972.27px;width:48.0px;height:37.09000000000003px;"><div>60</div></div><div class="cell dt bl" style="left:59.5px;top:1009.36px;width:48.0px;height:37.09000000000003px;"><div>65</div></div><div class="cell dt bl" style="left:59.5px;top:1046.45px;width:48.0px;height:37.09999999999991px;"><div>70</div></div><div class="cell dt bl" style="left:59.5px;top:1083.55px;width:48.0px;height:37.090000000000146px;"><div>75</div></div><div class="cell dt bl" style="left:59.5px;top:1120.64px;width:48.0px;height:37.08999999999992px;"><div>80</div></div><div class="cell dt bl" style="left:59.5px;top:1157.73px;width:48.0px;height:37.08999999999992px;"><div>85</div></div><div class="cell dt bl" style="left:59.5px;top:1194.82px;width:48.0px;height:37.090000000000146px;"><div>90</div></div><div class="cell dt bl" style="left:59.5px;top:1231.91px;width:48.0px;height:18.539999999999964px;"><div>95</div></div><div class="cell dt bl" style="left:59.5px;top:1250.45px;width:48.0px;height:18.549999999999955px;"><div>100</div></div><div class="cell dt bl" style="left:107.5px;top:657.0px;width:47.0px;height:18.549999999999955px;"><div>40</div></div><div class="cell dt" style="left:154.5px;top:657.0px;width:41.91999999999999px;height:18.549999999999955px;"><div>12</div></div><div class="cell dt" style="left:196.42px;top:657.0px;width:41.920000000000016px;height:18.549999999999955px;"><div>0. 6</div></div><div class="cell dt" style="left:238.34px;top:657.0px;width:41.91999999999999px;height:18.549999999999955px;"><div>0. 3</div></div><div class="cell dt" style="left:280.26px;top:657.0px;width:41.920000000000016px;height:18.549999999999955px;"><div>22. 1</div></div><div class="cell dt" style="left:322.18px;top:657.0px;width:41.920000000000016px;height:18.549999999999955px;"><div>35. 1</div></div><div class="cell dt" style="left:364.1px;top:657.0px;width:41.91999999999996px;height:18.549999999999955px;"><div>32. 5</div></div><div class="cell dt" style="left:406.02px;top:657.0px;width:41.920000000000016px;height:18.549999999999955px;"><div>24. 9</div></div><div class="cell dt" style="left:447.94px;top:657.0px;width:41.920000000000016px;height:18.549999999999955px;"><div>17. 2</div></div><div class="cell dt" style="left:489.86px;top:657.0px;width:41.91999999999996px;height:18.549999999999955px;"><div>14. 1</div></div><div class="cell dt" style="left:531.78px;top:657.0px;width:41.92000000000007px;height:18.549999999999955px;"><div>16000</div></div><div class="cell dt" style="left:573.7px;top:657.0px;width:41.91999999999996px;height:18.549999999999955px;"><div>19</div></div><div class="cell dt" style="left:615.62px;top:657.0px;width:41.91999999999996px;height:18.549999999999955px;"><div>20</div></div><div class="cell dt" style="left:657.54px;top:657.0px;width:41.92000000000007px;height:18.549999999999955px;"><div>36</div></div><div class="cell dt" style="left:699.46px;top:657.0px;width:41.91999999999996px;height:18.549999999999955px;"><div>35</div></div><div class="cell dt" style="left:741.38px;top:657.0px;width:41.91999999999996px;height:18.549999999999955px;"><div>36</div></div><div class="cell dt" style="left:783.3px;top:657.0px;width:41.92000000000007px;height:18.549999999999955px;"><div>0. 6</div></div><div class="cell dt" style="left:825.22px;top:657.0px;width:41.91999999999996px;height:18.549999999999955px;"><div>0. 3</div></div><div class="cell dt" style="left:867.14px;top:657.0px;width:42.860000000000014px;height:18.549999999999955px;"><div>66</div></div><div class="cell dt bl" style="left:107.5px;top:675.55px;width:47.0px;height:18.540000000000077px;"><div>47</div></div><div class="cell dt" style="left:154.5px;top:675.55px;width:41.91999999999999px;height:18.540000000000077px;"><div>14</div></div><div class="cell dt" style="left:196.42px;top:675.55px;width:41.920000000000016px;height:18.540000000000077px;"><div>1</div></div><div class="cell dt" style="left:238.34px;top:675.55px;width:41.91999999999999px;height:18.540000000000077px;"><div>0. 6</div></div><div class="cell dt" style="left:280.26px;top:675.55px;width:41.920000000000016px;height:18.540000000000077px;"><div>26. 5</div></div><div class="cell dt" style="left:322.18px;top:675.55px;width:41.920000000000016px;height:18.540000000000077px;"><div>41. 5</div></div><div class="cell dt" style="left:364.1px;top:675.55px;width:41.91999999999996px;height:18.540000000000077px;"><div>38. 5</div></div><div class="cell dt" style="left:406.02px;top:675.55px;width:41.920000000000016px;height:18.540000000000077px;"><div>29. 7</div></div><div class="cell dt" style="left:447.94px;top:675.55px;width:41.920000000000016px;height:18.540000000000077px;"><div>25. 2</div></div><div class="cell dt" style="left:489.86px;top:675.55px;width:41.91999999999996px;height:18.540000000000077px;"><div>22. 1</div></div><div class="cell dt" style="left:531.78px;top:675.55px;width:41.92000000000007px;height:18.540000000000077px;"><div>13000</div></div><div class="cell dt" style="left:573.7px;top:675.55px;width:41.91999999999996px;height:18.540000000000077px;"><div>24</div></div><div class="cell dt" style="left:615.62px;top:675.55px;width:41.91999999999996px;height:18.540000000000077px;"><div>25</div></div><div class="cell dt" style="left:657.54px;top:675.55px;width:41.92000000000007px;height:18.540000000000077px;"><div>42</div></div><div class="cell dt" style="left:699.46px;top:675.55px;width:41.91999999999996px;height:18.540000000000077px;"><div>42</div></div><div class="cell dt" style="left:741.38px;top:675.55px;width:41.91999999999996px;height:18.540000000000077px;"><div>43</div></div><div class="cell dt" style="left:783.3px;top:675.55px;width:41.92000000000007px;height:18.540000000000077px;"><div>1</div></div><div class="cell dt" style="left:825.22px;top:675.55px;width:41.91999999999996px;height:18.540000000000077px;"><div>0. 6</div></div><div class="cell dt" style="left:867.14px;top:675.55px;width:42.860000000000014px;height:18.540000000000077px;"><div>108</div></div><div class="cell dt bl" style="left:107.5px;top:694.09px;width:47.0px;height:18.549999999999955px;"><div>52</div></div><div class="cell dt" style="left:154.5px;top:694.09px;width:41.91999999999999px;height:18.549999999999955px;"><div>15</div></div><div class="cell dt" style="left:196.42px;top:694.09px;width:41.920000000000016px;height:18.549999999999955px;"><div>1. 1</div></div><div class="cell dt" style="left:238.34px;top:694.09px;width:41.91999999999999px;height:18.549999999999955px;"><div>0. 6</div></div><div class="cell dt" style="left:280.26px;top:694.09px;width:41.920000000000016px;height:18.549999999999955px;"><div>27. 5</div></div><div class="cell dt" style="left:322.18px;top:694.09px;width:41.920000000000016px;height:18.549999999999955px;"><div>45. 5</div></div><div class="cell dt" style="left:364.1px;top:694.09px;width:41.91999999999996px;height:18.549999999999955px;"><div>42. 3</div></div><div class="cell dt" style="left:406.02px;top:694.09px;width:41.920000000000016px;height:18.549999999999955px;"><div>31. 2</div></div><div class="cell dt" style="left:447.94px;top:694.09px;width:41.920000000000016px;height:18.549999999999955px;"><div>30. 5</div></div><div class="cell dt" style="left:489.86px;top:694.09px;width:41.91999999999996px;height:18.549999999999955px;"><div>25. 7</div></div><div class="cell dt" style="left:531.78px;top:694.09px;width:41.92000000000007px;height:18.549999999999955px;"><div>12000</div></div><div class="cell dt" style="left:573.7px;top:694.09px;width:41.91999999999996px;height:18.549999999999955px;"><div>24</div></div><div class="cell dt" style="left:615.62px;top:694.09px;width:41.91999999999996px;height:18.549999999999955px;"><div>26. 5</div></div><div class="cell dt" style="left:657.54px;top:694.09px;width:41.92000000000007px;height:18.549999999999955px;"><div>45. 5</div></div><div class="cell dt" style="left:699.46px;top:694.09px;width:41.91999999999996px;height:18.549999999999955px;"><div>47</div></div><div class="cell dt" style="left:741.38px;top:694.09px;width:41.91999999999996px;height:18.549999999999955px;"><div>48</div></div><div class="cell dt" style="left:783.3px;top:694.09px;width:41.92000000000007px;height:18.549999999999955px;"><div>1</div></div><div class="cell dt" style="left:825.22px;top:694.09px;width:41.91999999999996px;height:18.549999999999955px;"><div>0. 6</div></div><div class="cell dt" style="left:867.14px;top:694.09px;width:42.860000000000014px;height:18.549999999999955px;"><div>149</div></div><div class="cell dt bl" style="left:107.5px;top:712.64px;width:47.0px;height:18.539999999999964px;"><div>52</div></div><div class="cell dt" style="left:154.5px;top:712.64px;width:41.91999999999999px;height:18.539999999999964px;"><div>15</div></div><div class="cell dt" style="left:196.42px;top:712.64px;width:41.920000000000016px;height:18.539999999999964px;"><div>1</div></div><div class="cell dt" style="left:238.34px;top:712.64px;width:41.91999999999999px;height:18.539999999999964px;"><div>0. 6</div></div><div class="cell dt" style="left:280.26px;top:712.64px;width:41.920000000000016px;height:18.539999999999964px;"><div>31. 5</div></div><div class="cell dt" style="left:322.18px;top:712.64px;width:41.920000000000016px;height:18.539999999999964px;"><div>46. 5</div></div><div class="cell dt" style="left:364.1px;top:712.64px;width:41.91999999999996px;height:18.539999999999964px;"><div>43. 5</div></div><div class="cell dt" style="left:406.02px;top:712.64px;width:41.920000000000016px;height:18.539999999999964px;"><div>34. 7</div></div><div class="cell dt" style="left:447.94px;top:712.64px;width:41.920000000000016px;height:18.539999999999964px;"><div>28. 7</div></div><div class="cell dt" style="left:489.86px;top:712.64px;width:41.91999999999996px;height:18.539999999999964px;"><div>27</div></div><div class="cell dt" style="left:531.78px;top:712.64px;width:41.92000000000007px;height:18.539999999999964px;"><div>11000</div></div><div class="cell dt" style="left:573.7px;top:712.64px;width:41.91999999999996px;height:18.539999999999964px;"><div>29</div></div><div class="cell dt" style="left:615.62px;top:712.64px;width:41.91999999999996px;height:18.539999999999964px;"><div>30</div></div><div class="cell dt" style="left:657.54px;top:712.64px;width:41.92000000000007px;height:18.539999999999964px;"><div>47</div></div><div class="cell dt" style="left:699.46px;top:712.64px;width:41.91999999999996px;height:18.539999999999964px;"><div>47</div></div><div class="cell dt" style="left:741.38px;top:712.64px;width:41.91999999999996px;height:18.539999999999964px;"><div>48</div></div><div class="cell dt" style="left:783.3px;top:712.64px;width:41.92000000000007px;height:18.539999999999964px;"><div>1</div></div><div class="cell dt" style="left:825.22px;top:712.64px;width:41.91999999999996px;height:18.539999999999964px;"><div>0. 6</div></div><div class="cell dt" style="left:867.14px;top:712.64px;width:42.860000000000014px;height:18.539999999999964px;"><div>130</div></div><div class="cell dt bl" style="left:107.5px;top:731.18px;width:47.0px;height:18.550000000000068px;"><div>62</div></div><div class="cell dt" style="left:154.5px;top:731.18px;width:41.91999999999999px;height:18.550000000000068px;"><div>17</div></div><div class="cell dt" style="left:196.42px;top:731.18px;width:41.920000000000016px;height:18.550000000000068px;"><div>1. 1</div></div><div class="cell dt" style="left:238.34px;top:731.18px;width:41.91999999999999px;height:18.550000000000068px;"><div>1. 1</div></div><div class="cell dt" style="left:280.26px;top:731.18px;width:41.920000000000016px;height:18.550000000000068px;"><div>34</div></div><div class="cell dt" style="left:322.18px;top:731.18px;width:41.920000000000016px;height:18.550000000000068px;"><div>54</div></div><div class="cell dt" style="left:364.1px;top:731.18px;width:41.91999999999996px;height:18.550000000000068px;"><div>50. 4</div></div><div class="cell dt" style="left:406.02px;top:731.18px;width:41.920000000000016px;height:18.550000000000068px;"><div>38. 1</div></div><div class="cell dt" style="left:447.94px;top:731.18px;width:41.920000000000016px;height:18.550000000000068px;"><div>41. 6</div></div><div class="cell dt" style="left:489.86px;top:731.18px;width:41.91999999999996px;height:18.550000000000068px;"><div>35. 9</div></div><div class="cell dt" style="left:531.78px;top:731.18px;width:41.92000000000007px;height:18.550000000000068px;"><div>9500</div></div><div class="cell dt" style="left:573.7px;top:731.18px;width:41.91999999999996px;height:18.550000000000068px;"><div>31. 5</div></div><div class="cell dt" style="left:615.62px;top:731.18px;width:41.91999999999996px;height:18.550000000000068px;"><div>31. 5</div></div><div class="cell dt" style="left:657.54px;top:731.18px;width:41.92000000000007px;height:18.550000000000068px;"><div>55. 5</div></div><div class="cell dt" style="left:699.46px;top:731.18px;width:41.91999999999996px;height:18.550000000000068px;"><div>55</div></div><div class="cell dt" style="left:741.38px;top:731.18px;width:41.91999999999996px;height:18.550000000000068px;"><div>55. 5</div></div><div class="cell dt" style="left:783.3px;top:731.18px;width:41.92000000000007px;height:18.550000000000068px;"><div>1</div></div><div class="cell dt" style="left:825.22px;top:731.18px;width:41.91999999999996px;height:18.550000000000068px;"><div>1</div></div><div class="cell dt" style="left:867.14px;top:731.18px;width:42.860000000000014px;height:18.550000000000068px;"><div>237</div></div><div class="cell dt bl" style="left:107.5px;top:749.73px;width:47.0px;height:18.539999999999964px;"><div>62</div></div><div class="cell dt" style="left:154.5px;top:749.73px;width:41.91999999999999px;height:18.539999999999964px;"><div>16</div></div><div class="cell dt" style="left:196.42px;top:749.73px;width:41.920000000000016px;height:18.539999999999964px;"><div>1</div></div><div class="cell dt" style="left:238.34px;top:749.73px;width:41.91999999999999px;height:18.539999999999964px;"><div>0. 6</div></div><div class="cell dt" style="left:280.26px;top:749.73px;width:41.920000000000016px;height:18.539999999999964px;"><div>37. 5</div></div><div class="cell dt" style="left:322.18px;top:749.73px;width:41.920000000000016px;height:18.539999999999964px;"><div>55. 5</div></div><div class="cell dt" style="left:364.1px;top:749.73px;width:41.91999999999996px;height:18.539999999999964px;"><div>51. 9</div></div><div class="cell dt" style="left:406.02px;top:749.73px;width:41.920000000000016px;height:18.539999999999964px;"><div>41. 3</div></div><div class="cell dt" style="left:447.94px;top:749.73px;width:41.920000000000016px;height:18.539999999999964px;"><div>37. 7</div></div><div class="cell dt" style="left:489.86px;top:749.73px;width:41.91999999999996px;height:18.539999999999964px;"><div>36. 5</div></div><div class="cell dt" style="left:531.78px;top:749.73px;width:41.92000000000007px;height:18.539999999999964px;"><div>9500</div></div><div class="cell dt" style="left:573.7px;top:749.73px;width:41.91999999999996px;height:18.539999999999964px;"><div>34</div></div><div class="cell dt" style="left:615.62px;top:749.73px;width:41.91999999999996px;height:18.539999999999964px;"><div>35</div></div><div class="cell dt" style="left:657.54px;top:749.73px;width:41.92000000000007px;height:18.539999999999964px;"><div>57</div></div><div class="cell dt" style="left:699.46px;top:749.73px;width:41.91999999999996px;height:18.539999999999964px;"><div>56</div></div><div class="cell dt" style="left:741.38px;top:749.73px;width:41.91999999999996px;height:18.539999999999964px;"><div>58</div></div><div class="cell dt" style="left:783.3px;top:749.73px;width:41.92000000000007px;height:18.539999999999964px;"><div>1</div></div><div class="cell dt" style="left:825.22px;top:749.73px;width:41.91999999999996px;height:18.539999999999964px;"><div>0. 6</div></div><div class="cell dt" style="left:867.14px;top:749.73px;width:42.860000000000014px;height:18.539999999999964px;"><div>200</div></div><div class="cell dt bl" style="left:107.5px;top:768.27px;width:47.0px;height:18.550000000000068px;"><div>72</div></div><div class="cell dt" style="left:154.5px;top:768.27px;width:41.91999999999999px;height:18.550000000000068px;"><div>19</div></div><div class="cell dt" style="left:196.42px;top:768.27px;width:41.920000000000016px;height:18.550000000000068px;"><div>1. 1</div></div><div class="cell dt" style="left:238.34px;top:768.27px;width:41.91999999999999px;height:18.550000000000068px;"><div>1. 1</div></div><div class="cell dt" style="left:280.26px;top:768.27px;width:41.920000000000016px;height:18.550000000000068px;"><div>40. 5</div></div><div class="cell dt" style="left:322.18px;top:768.27px;width:41.920000000000016px;height:18.550000000000068px;"><div>62. 5</div></div><div class="cell dt" style="left:364.1px;top:768.27px;width:41.91999999999996px;height:18.550000000000068px;"><div>58. 5</div></div><div class="cell dt" style="left:406.02px;top:768.27px;width:41.920000000000016px;height:18.550000000000068px;"><div>45</div></div><div class="cell dt" style="left:447.94px;top:768.27px;width:41.920000000000016px;height:18.550000000000068px;"><div>51. 6</div></div><div class="cell dt" style="left:489.86px;top:768.27px;width:41.91999999999996px;height:18.550000000000068px;"><div>48. 4</div></div><div class="cell dt" style="left:531.78px;top:768.27px;width:41.92000000000007px;height:18.550000000000068px;"><div>9000</div></div><div class="cell dt" style="left:573.7px;top:768.27px;width:41.91999999999996px;height:18.550000000000068px;"><div>36. 5</div></div><div class="cell dt" style="left:615.62px;top:768.27px;width:41.91999999999996px;height:18.550000000000068px;"><div>36. 5</div></div><div class="cell dt" style="left:657.54px;top:768.27px;width:41.92000000000007px;height:18.550000000000068px;"><div>65. 5</div></div><div class="cell dt" style="left:699.46px;top:768.27px;width:41.91999999999996px;height:18.550000000000068px;"><div>64</div></div><div class="cell dt" style="left:741.38px;top:768.27px;width:41.91999999999996px;height:18.550000000000068px;"><div>66</div></div><div class="cell dt" style="left:783.3px;top:768.27px;width:41.92000000000007px;height:18.550000000000068px;"><div>1</div></div><div class="cell dt" style="left:825.22px;top:768.27px;width:41.91999999999996px;height:18.550000000000068px;"><div>1</div></div><div class="cell dt" style="left:867.14px;top:768.27px;width:42.860000000000014px;height:18.550000000000068px;"><div>360</div></div><div class="cell dt bl" style="left:107.5px;top:786.82px;width:47.0px;height:18.539999999999964px;"><div>72</div></div><div class="cell dt" style="left:154.5px;top:786.82px;width:41.91999999999999px;height:18.539999999999964px;"><div>17</div></div><div class="cell dt" style="left:196.42px;top:786.82px;width:41.920000000000016px;height:18.539999999999964px;"><div>1. 1</div></div><div class="cell dt" style="left:238.34px;top:786.82px;width:41.91999999999999px;height:18.539999999999964px;"><div>0. 6</div></div><div class="cell dt" style="left:280.26px;top:786.82px;width:41.920000000000016px;height:18.539999999999964px;"><div>44</div></div><div class="cell dt" style="left:322.18px;top:786.82px;width:41.920000000000016px;height:18.539999999999964px;"><div>64</div></div><div class="cell dt" style="left:364.1px;top:786.82px;width:41.91999999999996px;height:18.539999999999964px;"><div>60. 7</div></div><div class="cell dt" style="left:406.02px;top:786.82px;width:41.920000000000016px;height:18.539999999999964px;"><div>48. 3</div></div><div class="cell dt" style="left:447.94px;top:786.82px;width:41.920000000000016px;height:18.539999999999964px;"><div>48. 7</div></div><div class="cell dt" style="left:489.86px;top:786.82px;width:41.91999999999996px;height:18.539999999999964px;"><div>48. 2</div></div><div class="cell dt" style="left:531.78px;top:786.82px;width:41.92000000000007px;height:18.539999999999964px;"><div>8500</div></div><div class="cell dt" style="left:573.7px;top:786.82px;width:41.91999999999996px;height:18.539999999999964px;"><div>39</div></div><div class="cell dt" style="left:615.62px;top:786.82px;width:41.91999999999996px;height:18.539999999999964px;"><div>41. 5</div></div><div class="cell dt" style="left:657.54px;top:786.82px;width:41.92000000000007px;height:18.539999999999964px;"><div>65. 5</div></div><div class="cell dt" style="left:699.46px;top:786.82px;width:41.91999999999996px;height:18.539999999999964px;"><div>64</div></div><div class="cell dt" style="left:741.38px;top:786.82px;width:41.91999999999996px;height:18.539999999999964px;"><div>68</div></div><div class="cell dt" style="left:783.3px;top:786.82px;width:41.92000000000007px;height:18.539999999999964px;"><div>1</div></div><div class="cell dt" style="left:825.22px;top:786.82px;width:41.91999999999996px;height:18.539999999999964px;"><div>0. 6</div></div><div class="cell dt" style="left:867.14px;top:786.82px;width:42.860000000000014px;height:18.539999999999964px;"><div>296</div></div><div class="cell dt bl" style="left:107.5px;top:805.36px;width:47.0px;height:18.549999999999955px;"><div>80</div></div><div class="cell dt" style="left:154.5px;top:805.36px;width:41.91999999999999px;height:18.549999999999955px;"><div>21</div></div><div class="cell dt" style="left:196.42px;top:805.36px;width:41.920000000000016px;height:18.549999999999955px;"><div>1. 5</div></div><div class="cell dt" style="left:238.34px;top:805.36px;width:41.91999999999999px;height:18.549999999999955px;"><div>1. 1</div></div><div class="cell dt" style="left:280.26px;top:805.36px;width:41.920000000000016px;height:18.549999999999955px;"><div>46. 2</div></div><div class="cell dt" style="left:322.18px;top:805.36px;width:41.920000000000016px;height:18.549999999999955px;"><div>70. 2</div></div><div class="cell dt" style="left:364.1px;top:805.36px;width:41.91999999999996px;height:18.549999999999955px;"><div>66. 3</div></div><div class="cell dt" style="left:406.02px;top:805.36px;width:41.920000000000016px;height:18.549999999999955px;"><div>51. 5</div></div><div class="cell dt" style="left:447.94px;top:805.36px;width:41.920000000000016px;height:18.549999999999955px;"><div>65</div></div><div class="cell dt" style="left:489.86px;top:805.36px;width:41.91999999999996px;height:18.549999999999955px;"><div>53. 3</div></div><div class="cell dt" style="left:531.78px;top:805.36px;width:41.92000000000007px;height:18.549999999999955px;"><div>8000</div></div><div class="cell dt" style="left:573.7px;top:805.36px;width:41.91999999999996px;height:18.549999999999955px;"><div>41. 5</div></div><div class="cell dt" style="left:615.62px;top:805.36px;width:41.91999999999996px;height:18.549999999999955px;"><div>43</div></div><div class="cell dt" style="left:657.54px;top:805.36px;width:41.92000000000007px;height:18.549999999999955px;"><div>72</div></div><div class="cell dt" style="left:699.46px;top:805.36px;width:41.91999999999996px;height:18.549999999999955px;"><div>71</div></div><div class="cell dt" style="left:741.38px;top:805.36px;width:41.91999999999996px;height:18.549999999999955px;"><div>74</div></div><div class="cell dt" style="left:783.3px;top:805.36px;width:41.92000000000007px;height:18.549999999999955px;"><div>1. 5</div></div><div class="cell dt" style="left:825.22px;top:805.36px;width:41.91999999999996px;height:18.549999999999955px;"><div>1</div></div><div class="cell dt" style="left:867.14px;top:805.36px;width:42.860000000000014px;height:18.549999999999955px;"><div>472</div></div><div class="cell dt bl" style="left:107.5px;top:823.91px;width:47.0px;height:18.540000000000077px;"><div>80</div></div><div class="cell dt" style="left:154.5px;top:823.91px;width:41.91999999999999px;height:18.540000000000077px;"><div>18</div></div><div class="cell dt" style="left:196.42px;top:823.91px;width:41.920000000000016px;height:18.540000000000077px;"><div>1. 1</div></div><div class="cell dt" style="left:238.34px;top:823.91px;width:41.91999999999999px;height:18.540000000000077px;"><div>1. 1</div></div><div class="cell dt" style="left:280.26px;top:823.91px;width:41.920000000000016px;height:18.540000000000077px;"><div>49. 5</div></div><div class="cell dt" style="left:322.18px;top:823.91px;width:41.920000000000016px;height:18.540000000000077px;"><div>71. 5</div></div><div class="cell dt" style="left:364.1px;top:823.91px;width:41.91999999999996px;height:18.540000000000077px;"><div>67. 1</div></div><div class="cell dt" style="left:406.02px;top:823.91px;width:41.920000000000016px;height:18.540000000000077px;"><div>54. 2</div></div><div class="cell dt" style="left:447.94px;top:823.91px;width:41.920000000000016px;height:18.540000000000077px;"><div>53. 9</div></div><div class="cell dt" style="left:489.86px;top:823.91px;width:41.91999999999996px;height:18.540000000000077px;"><div>53. 2</div></div><div class="cell dt" style="left:531.78px;top:823.91px;width:41.92000000000007px;height:18.540000000000077px;"><div>7500</div></div><div class="cell dt" style="left:573.7px;top:823.91px;width:41.91999999999996px;height:18.540000000000077px;"><div>46. 5</div></div><div class="cell dt" style="left:615.62px;top:823.91px;width:41.91999999999996px;height:18.540000000000077px;"><div>46. 5</div></div><div class="cell dt" style="left:657.54px;top:823.91px;width:41.92000000000007px;height:18.540000000000077px;"><div>73. 5</div></div><div class="cell dt" style="left:699.46px;top:823.91px;width:41.91999999999996px;height:18.540000000000077px;"><div>72</div></div><div class="cell dt" style="left:741.38px;top:823.91px;width:41.91999999999996px;height:18.540000000000077px;"><div>74</div></div><div class="cell dt" style="left:783.3px;top:823.91px;width:41.92000000000007px;height:18.540000000000077px;"><div>1</div></div><div class="cell dt" style="left:825.22px;top:823.91px;width:41.91999999999996px;height:18.540000000000077px;"><div>1</div></div><div class="cell dt" style="left:867.14px;top:823.91px;width:42.860000000000014px;height:18.540000000000077px;"><div>368</div></div><div class="cell dt bl" style="left:107.5px;top:842.45px;width:47.0px;height:18.549999999999955px;"><div>90</div></div><div class="cell dt" style="left:154.5px;top:842.45px;width:41.91999999999999px;height:18.549999999999955px;"><div>23</div></div><div class="cell dt" style="left:196.42px;top:842.45px;width:41.920000000000016px;height:18.549999999999955px;"><div>1. 5</div></div><div class="cell dt" style="left:238.34px;top:842.45px;width:41.91999999999999px;height:18.549999999999955px;"><div>1. 5</div></div><div class="cell dt" style="left:280.26px;top:842.45px;width:41.920000000000016px;height:18.549999999999955px;"><div>52</div></div><div class="cell dt" style="left:322.18px;top:842.45px;width:41.920000000000016px;height:18.549999999999955px;"><div>80</div></div><div class="cell dt" style="left:364.1px;top:842.45px;width:41.91999999999996px;height:18.549999999999955px;"><div>75. 4</div></div><div class="cell dt" style="left:406.02px;top:842.45px;width:41.920000000000016px;height:18.549999999999955px;"><div>57. 7</div></div><div class="cell dt" style="left:447.94px;top:842.45px;width:41.920000000000016px;height:18.549999999999955px;"><div>80. 4</div></div><div class="cell dt" style="left:489.86px;top:842.45px;width:41.91999999999996px;height:18.549999999999955px;"><div>78</div></div><div class="cell dt" style="left:531.78px;top:842.45px;width:41.92000000000007px;height:18.549999999999955px;"><div>6700</div></div><div class="cell dt" style="left:573.7px;top:842.45px;width:41.91999999999996px;height:18.549999999999955px;"><div>48</div></div><div class="cell dt" style="left:615.62px;top:842.45px;width:41.91999999999996px;height:18.549999999999955px;"><div>48</div></div><div class="cell dt" style="left:657.54px;top:842.45px;width:41.92000000000007px;height:18.549999999999955px;"><div>82</div></div><div class="cell dt" style="left:699.46px;top:842.45px;width:41.91999999999996px;height:18.549999999999955px;"><div>80</div></div><div class="cell dt" style="left:741.38px;top:842.45px;width:41.91999999999996px;height:18.549999999999955px;"><div>82</div></div><div class="cell dt" style="left:783.3px;top:842.45px;width:41.92000000000007px;height:18.549999999999955px;"><div>1. 5</div></div><div class="cell dt" style="left:825.22px;top:842.45px;width:41.91999999999996px;height:18.549999999999955px;"><div>1. 5</div></div><div class="cell dt" style="left:867.14px;top:842.45px;width:42.860000000000014px;height:18.549999999999955px;"><div>636</div></div><div class="cell dt bl" style="left:107.5px;top:861.0px;width:47.0px;height:18.549999999999955px;"><div>85</div></div><div class="cell dt" style="left:154.5px;top:861.0px;width:41.91999999999999px;height:18.549999999999955px;"><div>19</div></div><div class="cell dt" style="left:196.42px;top:861.0px;width:41.920000000000016px;height:18.549999999999955px;"><div>1. 1</div></div><div class="cell dt" style="left:238.34px;top:861.0px;width:41.91999999999999px;height:18.549999999999955px;"><div>1. 1</div></div><div class="cell dt" style="left:280.26px;top:861.0px;width:41.920000000000016px;height:18.549999999999955px;"><div>54. 5</div></div><div class="cell dt" style="left:322.18px;top:861.0px;width:41.920000000000016px;height:18.549999999999955px;"><div>76. 5</div></div><div class="cell dt" style="left:364.1px;top:861.0px;width:41.91999999999996px;height:18.549999999999955px;"><div>72. 1</div></div><div class="cell dt" style="left:406.02px;top:861.0px;width:41.920000000000016px;height:18.549999999999955px;"><div>59. 2</div></div><div class="cell dt" style="left:447.94px;top:861.0px;width:41.920000000000016px;height:18.549999999999955px;"><div>61. 3</div></div><div class="cell dt" style="left:489.86px;top:861.0px;width:41.91999999999996px;height:18.549999999999955px;"><div>64. 1</div></div><div class="cell dt" style="left:531.78px;top:861.0px;width:41.92000000000007px;height:18.549999999999955px;"><div>6700</div></div><div class="cell dt" style="left:573.7px;top:861.0px;width:41.91999999999996px;height:18.549999999999955px;"><div>51. 5</div></div><div class="cell dt" style="left:615.62px;top:861.0px;width:41.91999999999996px;height:18.549999999999955px;"><div>51. 5</div></div><div class="cell dt" style="left:657.54px;top:861.0px;width:41.92000000000007px;height:18.549999999999955px;"><div>78. 5</div></div><div class="cell dt" style="left:699.46px;top:861.0px;width:41.91999999999996px;height:18.549999999999955px;"><div>77</div></div><div class="cell dt" style="left:741.38px;top:861.0px;width:41.91999999999996px;height:18.549999999999955px;"><div>79</div></div><div class="cell dt" style="left:783.3px;top:861.0px;width:41.92000000000007px;height:18.549999999999955px;"><div>1</div></div><div class="cell dt" style="left:825.22px;top:861.0px;width:41.91999999999996px;height:18.549999999999955px;"><div>1</div></div><div class="cell dt" style="left:867.14px;top:861.0px;width:42.860000000000014px;height:18.549999999999955px;"><div>424</div></div><div class="cell dt bl" style="left:107.5px;top:879.55px;width:47.0px;height:18.540000000000077px;"><div>100</div></div><div class="cell dt" style="left:154.5px;top:879.55px;width:41.91999999999999px;height:18.540000000000077px;"><div>25</div></div><div class="cell dt" style="left:196.42px;top:879.55px;width:41.920000000000016px;height:18.540000000000077px;"><div>1. 5</div></div><div class="cell dt" style="left:238.34px;top:879.55px;width:41.91999999999999px;height:18.540000000000077px;"><div>1. 5</div></div><div class="cell dt" style="left:280.26px;top:879.55px;width:41.920000000000016px;height:18.540000000000077px;"><div>58. 5</div></div><div class="cell dt" style="left:322.18px;top:879.55px;width:41.920000000000016px;height:18.540000000000077px;"><div>88. 5</div></div><div class="cell dt" style="left:364.1px;top:879.55px;width:41.91999999999996px;height:18.540000000000077px;"><div>83. 6</div></div><div class="cell dt" style="left:406.02px;top:879.55px;width:41.920000000000016px;height:18.540000000000077px;"><div>64. 7</div></div><div class="cell dt" style="left:447.94px;top:879.55px;width:41.920000000000016px;height:18.540000000000077px;"><div>97. 6</div></div><div class="cell dt" style="left:489.86px;top:879.55px;width:41.91999999999996px;height:18.540000000000077px;"><div>98. 3</div></div><div class="cell dt" style="left:531.78px;top:879.55px;width:41.92000000000007px;height:18.540000000000077px;"><div>6300</div></div><div class="cell dt" style="left:573.7px;top:879.55px;width:41.91999999999996px;height:18.540000000000077px;"><div>53</div></div><div class="cell dt" style="left:615.62px;top:879.55px;width:41.91999999999996px;height:18.540000000000077px;"><div>53</div></div><div class="cell dt" style="left:657.54px;top:879.55px;width:41.92000000000007px;height:18.540000000000077px;"><div>92</div></div><div class="cell dt" style="left:699.46px;top:879.55px;width:41.91999999999996px;height:18.540000000000077px;"><div>89</div></div><div class="cell dt" style="left:741.38px;top:879.55px;width:41.91999999999996px;height:18.540000000000077px;"><div>92</div></div><div class="cell dt" style="left:783.3px;top:879.55px;width:41.92000000000007px;height:18.540000000000077px;"><div>1. 5</div></div><div class="cell dt" style="left:825.22px;top:879.55px;width:41.91999999999996px;height:18.540000000000077px;"><div>1. 5</div></div><div class="cell dt" style="left:867.14px;top:879.55px;width:42.860000000000014px;height:18.540000000000077px;"><div>873</div></div><div class="cell dt bl" style="left:107.5px;top:898.09px;width:47.0px;height:18.549999999999955px;"><div>90</div></div><div class="cell dt" style="left:154.5px;top:898.09px;width:41.91999999999999px;height:18.549999999999955px;"><div>20</div></div><div class="cell dt" style="left:196.42px;top:898.09px;width:41.920000000000016px;height:18.549999999999955px;"><div>1. 1</div></div><div class="cell dt" style="left:238.34px;top:898.09px;width:41.91999999999999px;height:18.549999999999955px;"><div>1. 1</div></div><div class="cell dt" style="left:280.26px;top:898.09px;width:41.920000000000016px;height:18.549999999999955px;"><div>59. 5</div></div><div class="cell dt" style="left:322.18px;top:898.09px;width:41.920000000000016px;height:18.549999999999955px;"><div>81. 5</div></div><div class="cell dt" style="left:364.1px;top:898.09px;width:41.91999999999996px;height:18.549999999999955px;"><div>77. 1</div></div><div class="cell dt" style="left:406.02px;top:898.09px;width:41.920000000000016px;height:18.549999999999955px;"><div>64. 2</div></div><div class="cell dt" style="left:447.94px;top:898.09px;width:41.920000000000016px;height:18.549999999999955px;"><div>64. 1</div></div><div class="cell dt" style="left:489.86px;top:898.09px;width:41.91999999999996px;height:18.549999999999955px;"><div>69. 3</div></div><div class="cell dt" style="left:531.78px;top:898.09px;width:41.92000000000007px;height:18.549999999999955px;"><div>6300</div></div><div class="cell dt" style="left:573.7px;top:898.09px;width:41.91999999999996px;height:18.549999999999955px;"><div>56. 5</div></div><div class="cell dt" style="left:615.62px;top:898.09px;width:41.91999999999996px;height:18.549999999999955px;"><div>56. 5</div></div><div class="cell dt" style="left:657.54px;top:898.09px;width:41.92000000000007px;height:18.549999999999955px;"><div>83. 5</div></div><div class="cell dt" style="left:699.46px;top:898.09px;width:41.91999999999996px;height:18.549999999999955px;"><div>83</div></div><div class="cell dt" style="left:741.38px;top:898.09px;width:41.91999999999996px;height:18.549999999999955px;"><div>84</div></div><div class="cell dt" style="left:783.3px;top:898.09px;width:41.92000000000007px;height:18.549999999999955px;"><div>1</div></div><div class="cell dt" style="left:825.22px;top:898.09px;width:41.91999999999996px;height:18.549999999999955px;"><div>1</div></div><div class="cell dt" style="left:867.14px;top:898.09px;width:42.860000000000014px;height:18.549999999999955px;"><div>482</div></div><div class="cell dt bl" style="left:107.5px;top:916.64px;width:47.0px;height:18.539999999999964px;"><div>110</div></div><div class="cell dt" style="left:154.5px;top:916.64px;width:41.91999999999999px;height:18.539999999999964px;"><div>27</div></div><div class="cell dt" style="left:196.42px;top:916.64px;width:41.920000000000016px;height:18.539999999999964px;"><div>2</div></div><div class="cell dt" style="left:238.34px;top:916.64px;width:41.91999999999999px;height:18.539999999999964px;"><div>2</div></div><div class="cell dt" style="left:280.26px;top:916.64px;width:41.920000000000016px;height:18.539999999999964px;"><div>65</div></div><div class="cell dt" style="left:322.18px;top:916.64px;width:41.920000000000016px;height:18.539999999999964px;"><div>97</div></div><div class="cell dt" style="left:364.1px;top:916.64px;width:41.91999999999996px;height:18.539999999999964px;"><div>91. 7</div></div><div class="cell dt" style="left:406.02px;top:916.64px;width:41.920000000000016px;height:18.539999999999964px;"><div>71. 2</div></div><div class="cell dt" style="left:447.94px;top:916.64px;width:41.920000000000016px;height:18.539999999999964px;"><div>110</div></div><div class="cell dt" style="left:489.86px;top:916.64px;width:41.91999999999996px;height:18.539999999999964px;"><div>113</div></div><div class="cell dt" style="left:531.78px;top:916.64px;width:41.92000000000007px;height:18.539999999999964px;"><div>5000</div></div><div class="cell dt" style="left:573.7px;top:916.64px;width:41.91999999999996px;height:18.539999999999964px;"><div>59</div></div><div class="cell dt" style="left:615.62px;top:916.64px;width:41.91999999999996px;height:18.539999999999964px;"><div>59</div></div><div class="cell dt" style="left:657.54px;top:916.64px;width:41.92000000000007px;height:18.539999999999964px;"><div>101</div></div><div class="cell dt" style="left:699.46px;top:916.64px;width:41.91999999999996px;height:18.539999999999964px;"><div>98</div></div><div class="cell dt" style="left:741.38px;top:916.64px;width:41.91999999999996px;height:18.539999999999964px;"><div>101</div></div><div class="cell dt" style="left:783.3px;top:916.64px;width:41.92000000000007px;height:18.539999999999964px;"><div>2</div></div><div class="cell dt" style="left:825.22px;top:916.64px;width:41.91999999999996px;height:18.539999999999964px;"><div>2</div></div><div class="cell dt" style="left:867.14px;top:916.64px;width:42.860000000000014px;height:18.539999999999964px;"><div>1120</div></div><div class="cell dt bl" style="left:107.5px;top:935.18px;width:47.0px;height:18.550000000000068px;"><div>100</div></div><div class="cell dt" style="left:154.5px;top:935.18px;width:41.91999999999999px;height:18.550000000000068px;"><div>21</div></div><div class="cell dt" style="left:196.42px;top:935.18px;width:41.920000000000016px;height:18.550000000000068px;"><div>1. 5</div></div><div class="cell dt" style="left:238.34px;top:935.18px;width:41.91999999999999px;height:18.550000000000068px;"><div>1. 1</div></div><div class="cell dt" style="left:280.26px;top:935.18px;width:41.920000000000016px;height:18.550000000000068px;"><div>66</div></div><div class="cell dt" style="left:322.18px;top:935.18px;width:41.920000000000016px;height:18.550000000000068px;"><div>90</div></div><div class="cell dt" style="left:364.1px;top:935.18px;width:41.91999999999996px;height:18.550000000000068px;"><div>85. 2</div></div><div class="cell dt" style="left:406.02px;top:935.18px;width:41.920000000000016px;height:18.550000000000068px;"><div>70. 9</div></div><div class="cell dt" style="left:447.94px;top:935.18px;width:41.920000000000016px;height:18.550000000000068px;"><div>84. 2</div></div><div class="cell dt" style="left:489.86px;top:935.18px;width:41.91999999999996px;height:18.550000000000068px;"><div>96. 7</div></div><div class="cell dt" style="left:531.78px;top:935.18px;width:41.92000000000007px;height:18.550000000000068px;"><div>6000</div></div><div class="cell dt" style="left:573.7px;top:935.18px;width:41.91999999999996px;height:18.550000000000068px;"><div>61. 5</div></div><div class="cell dt" style="left:615.62px;top:935.18px;width:41.91999999999996px;height:18.550000000000068px;"><div>63</div></div><div class="cell dt" style="left:657.54px;top:935.18px;width:41.92000000000007px;height:18.550000000000068px;"><div>92</div></div><div class="cell dt" style="left:699.46px;top:935.18px;width:41.91999999999996px;height:18.550000000000068px;"><div>91</div></div><div class="cell dt" style="left:741.38px;top:935.18px;width:41.91999999999996px;height:18.550000000000068px;"><div>94</div></div><div class="cell dt" style="left:783.3px;top:935.18px;width:41.92000000000007px;height:18.550000000000068px;"><div>1. 5</div></div><div class="cell dt" style="left:825.22px;top:935.18px;width:41.91999999999996px;height:18.550000000000068px;"><div>1. 5</div></div><div class="cell dt" style="left:867.14px;top:935.18px;width:42.860000000000014px;height:18.550000000000068px;"><div>649</div></div><div class="cell dt bl" style="left:107.5px;top:953.73px;width:47.0px;height:18.539999999999964px;"><div>120</div></div><div class="cell dt" style="left:154.5px;top:953.73px;width:41.91999999999999px;height:18.539999999999964px;"><div>29</div></div><div class="cell dt" style="left:196.42px;top:953.73px;width:41.920000000000016px;height:18.539999999999964px;"><div>2</div></div><div class="cell dt" style="left:238.34px;top:953.73px;width:41.91999999999999px;height:18.539999999999964px;"><div>2</div></div><div class="cell dt" style="left:280.26px;top:953.73px;width:41.920000000000016px;height:18.539999999999964px;"><div>70. 5</div></div><div class="cell dt" style="left:322.18px;top:953.73px;width:41.920000000000016px;height:18.539999999999964px;"><div>106. 5</div></div><div class="cell dt" style="left:364.1px;top:953.73px;width:41.91999999999996px;height:18.539999999999964px;"><div>100. 6</div></div><div class="cell dt" style="left:406.02px;top:953.73px;width:41.920000000000016px;height:18.539999999999964px;"><div>77. 4</div></div><div class="cell dt" style="left:447.94px;top:953.73px;width:41.920000000000016px;height:18.539999999999964px;"><div>134</div></div><div class="cell dt" style="left:489.86px;top:953.73px;width:41.91999999999996px;height:18.539999999999964px;"><div>141</div></div><div class="cell dt" style="left:531.78px;top:953.73px;width:41.92000000000007px;height:18.539999999999964px;"><div>4800</div></div><div class="cell dt" style="left:573.7px;top:953.73px;width:41.91999999999996px;height:18.539999999999964px;"><div>64</div></div><div class="cell dt" style="left:615.62px;top:953.73px;width:41.91999999999996px;height:18.539999999999964px;"><div>64</div></div><div class="cell dt" style="left:657.54px;top:953.73px;width:41.92000000000007px;height:18.539999999999964px;"><div>111</div></div><div class="cell dt" style="left:699.46px;top:953.73px;width:41.91999999999996px;height:18.539999999999964px;"><div>107</div></div><div class="cell dt" style="left:741.38px;top:953.73px;width:41.91999999999996px;height:18.539999999999964px;"><div>111</div></div><div class="cell dt" style="left:783.3px;top:953.73px;width:41.92000000000007px;height:18.539999999999964px;"><div>2</div></div><div class="cell dt" style="left:825.22px;top:953.73px;width:41.91999999999996px;height:18.539999999999964px;"><div>2</div></div><div class="cell dt" style="left:867.14px;top:953.73px;width:42.860000000000014px;height:18.539999999999964px;"><div>1440</div></div><div class="cell dt bl" style="left:107.5px;top:972.27px;width:47.0px;height:18.550000000000068px;"><div>110</div></div><div class="cell dt" style="left:154.5px;top:972.27px;width:41.91999999999999px;height:18.550000000000068px;"><div>22</div></div><div class="cell dt" style="left:196.42px;top:972.27px;width:41.920000000000016px;height:18.550000000000068px;"><div>1. 5</div></div><div class="cell dt" style="left:238.34px;top:972.27px;width:41.91999999999999px;height:18.550000000000068px;"><div>1. 5</div></div><div class="cell dt" style="left:280.26px;top:972.27px;width:41.920000000000016px;height:18.550000000000068px;"><div>72</div></div><div class="cell dt" style="left:322.18px;top:972.27px;width:41.920000000000016px;height:18.550000000000068px;"><div>100</div></div><div class="cell dt" style="left:364.1px;top:972.27px;width:41.91999999999996px;height:18.550000000000068px;"><div>94. 4</div></div><div class="cell dt" style="left:406.02px;top:972.27px;width:41.920000000000016px;height:18.550000000000068px;"><div>77. 7</div></div><div class="cell dt" style="left:447.94px;top:972.27px;width:41.920000000000016px;height:18.550000000000068px;"><div>93. 9</div></div><div class="cell dt" style="left:489.86px;top:972.27px;width:41.91999999999996px;height:18.550000000000068px;"><div>102</div></div><div class="cell dt" style="left:531.78px;top:972.27px;width:41.92000000000007px;height:18.550000000000068px;"><div>5300</div></div><div class="cell dt" style="left:573.7px;top:972.27px;width:41.91999999999996px;height:18.550000000000068px;"><div>68</div></div><div class="cell dt" style="left:615.62px;top:972.27px;width:41.91999999999996px;height:18.550000000000068px;"><div>68</div></div><div class="cell dt" style="left:657.54px;top:972.27px;width:41.92000000000007px;height:18.550000000000068px;"><div>102</div></div><div class="cell dt" style="left:699.46px;top:972.27px;width:41.91999999999996px;height:18.550000000000068px;"><div>100</div></div><div class="cell dt" style="left:741.38px;top:972.27px;width:41.91999999999996px;height:18.550000000000068px;"><div>102</div></div><div class="cell dt" style="left:783.3px;top:972.27px;width:41.92000000000007px;height:18.550000000000068px;"><div>1. 5</div></div><div class="cell dt" style="left:825.22px;top:972.27px;width:41.91999999999996px;height:18.550000000000068px;"><div>1. 5</div></div><div class="cell dt" style="left:867.14px;top:972.27px;width:42.860000000000014px;height:18.550000000000068px;"><div>807</div></div><div class="cell dt bl" style="left:107.5px;top:990.82px;width:47.0px;height:18.539999999999964px;"><div>130</div></div><div class="cell dt" style="left:154.5px;top:990.82px;width:41.91999999999999px;height:18.539999999999964px;"><div>31</div></div><div class="cell dt" style="left:196.42px;top:990.82px;width:41.920000000000016px;height:18.539999999999964px;"><div>2. 1</div></div><div class="cell dt" style="left:238.34px;top:990.82px;width:41.91999999999999px;height:18.539999999999964px;"><div>2. 1</div></div><div class="cell dt" style="left:280.26px;top:990.82px;width:41.920000000000016px;height:18.539999999999964px;"><div>77</div></div><div class="cell dt" style="left:322.18px;top:990.82px;width:41.920000000000016px;height:18.539999999999964px;"><div>115</div></div><div class="cell dt" style="left:364.1px;top:990.82px;width:41.91999999999996px;height:18.539999999999964px;"><div>110</div></div><div class="cell dt" style="left:406.02px;top:990.82px;width:41.920000000000016px;height:18.539999999999964px;"><div>84. 3</div></div><div class="cell dt" style="left:447.94px;top:990.82px;width:41.920000000000016px;height:18.539999999999964px;"><div>150</div></div><div class="cell dt" style="left:489.86px;top:990.82px;width:41.91999999999996px;height:18.539999999999964px;"><div>159</div></div><div class="cell dt" style="left:531.78px;top:990.82px;width:41.92000000000007px;height:18.539999999999964px;"><div>4300</div></div><div class="cell dt" style="left:573.7px;top:990.82px;width:41.91999999999996px;height:18.539999999999964px;"><div>71</div></div><div class="cell dt" style="left:615.62px;top:990.82px;width:41.91999999999996px;height:18.539999999999964px;"><div>71</div></div><div class="cell dt" style="left:657.54px;top:990.82px;width:41.92000000000007px;height:18.539999999999964px;"><div>119</div></div><div class="cell dt" style="left:699.46px;top:990.82px;width:41.91999999999996px;height:18.539999999999964px;"><div>116</div></div><div class="cell dt" style="left:741.38px;top:990.82px;width:41.91999999999996px;height:18.539999999999964px;"><div>119</div></div><div class="cell dt" style="left:783.3px;top:990.82px;width:41.92000000000007px;height:18.539999999999964px;"><div>2</div></div><div class="cell dt" style="left:825.22px;top:990.82px;width:41.91999999999996px;height:18.539999999999964px;"><div>2</div></div><div class="cell dt" style="left:867.14px;top:990.82px;width:42.860000000000014px;height:18.539999999999964px;"><div>1810</div></div><div class="cell dt bl" style="left:107.5px;top:1009.36px;width:47.0px;height:18.550000000000068px;"><div>120</div></div><div class="cell dt" style="left:154.5px;top:1009.36px;width:41.91999999999999px;height:18.550000000000068px;"><div>23</div></div><div class="cell dt" style="left:196.42px;top:1009.36px;width:41.920000000000016px;height:18.550000000000068px;"><div>1. 5</div></div><div class="cell dt" style="left:238.34px;top:1009.36px;width:41.91999999999999px;height:18.550000000000068px;"><div>1. 5</div></div><div class="cell dt" style="left:280.26px;top:1009.36px;width:41.920000000000016px;height:18.550000000000068px;"><div>78. 5</div></div><div class="cell dt" style="left:322.18px;top:1009.36px;width:41.920000000000016px;height:18.550000000000068px;"><div>108. 5</div></div><div class="cell dt" style="left:364.1px;top:1009.36px;width:41.91999999999996px;height:18.550000000000068px;"><div>102. 5</div></div><div class="cell dt" style="left:406.02px;top:1009.36px;width:41.920000000000016px;height:18.550000000000068px;"><div>84. 5</div></div><div class="cell dt" style="left:447.94px;top:1009.36px;width:41.920000000000016px;height:18.550000000000068px;"><div>107</div></div><div class="cell dt" style="left:489.86px;top:1009.36px;width:41.91999999999996px;height:18.550000000000068px;"><div>119</div></div><div class="cell dt" style="left:531.78px;top:1009.36px;width:41.92000000000007px;height:18.550000000000068px;"><div>4800</div></div><div class="cell dt" style="left:573.7px;top:1009.36px;width:41.91999999999996px;height:18.550000000000068px;"><div>73</div></div><div class="cell dt" style="left:615.62px;top:1009.36px;width:41.91999999999996px;height:18.550000000000068px;"><div>73</div></div><div class="cell dt" style="left:657.54px;top:1009.36px;width:41.92000000000007px;height:18.550000000000068px;"><div>112</div></div><div class="cell dt" style="left:699.46px;top:1009.36px;width:41.91999999999996px;height:18.550000000000068px;"><div>108</div></div><div class="cell dt" style="left:741.38px;top:1009.36px;width:41.91999999999996px;height:18.550000000000068px;"><div>112</div></div><div class="cell dt" style="left:783.3px;top:1009.36px;width:41.92000000000007px;height:18.550000000000068px;"><div>1. 5</div></div><div class="cell dt" style="left:825.22px;top:1009.36px;width:41.91999999999996px;height:18.550000000000068px;"><div>1. 5</div></div><div class="cell dt" style="left:867.14px;top:1009.36px;width:42.860000000000014px;height:18.550000000000068px;"><div>1020</div></div><div class="cell dt bl" style="left:107.5px;top:1027.91px;width:47.0px;height:18.539999999999964px;"><div>140</div></div><div class="cell dt" style="left:154.5px;top:1027.91px;width:41.91999999999999px;height:18.539999999999964px;"><div>33</div></div><div class="cell dt" style="left:196.42px;top:1027.91px;width:41.920000000000016px;height:18.539999999999964px;"><div>2. 1</div></div><div class="cell dt" style="left:238.34px;top:1027.91px;width:41.91999999999999px;height:18.539999999999964px;"><div>2. 1</div></div><div class="cell dt" style="left:280.26px;top:1027.91px;width:41.920000000000016px;height:18.539999999999964px;"><div>82. 5</div></div><div class="cell dt" style="left:322.18px;top:1027.91px;width:41.920000000000016px;height:18.539999999999964px;"><div>124. 5</div></div><div class="cell dt" style="left:364.1px;top:1027.91px;width:41.91999999999996px;height:18.539999999999964px;"><div>118</div></div><div class="cell dt" style="left:406.02px;top:1027.91px;width:41.920000000000016px;height:18.539999999999964px;"><div>90. 6</div></div><div class="cell dt" style="left:447.94px;top:1027.91px;width:41.920000000000016px;height:18.539999999999964px;"><div>183</div></div><div class="cell dt" style="left:489.86px;top:1027.91px;width:41.91999999999996px;height:18.539999999999964px;"><div>190</div></div><div class="cell dt" style="left:531.78px;top:1027.91px;width:41.92000000000007px;height:18.539999999999964px;"><div>4000</div></div><div class="cell dt" style="left:573.7px;top:1027.91px;width:41.91999999999996px;height:18.539999999999964px;"><div>76</div></div><div class="cell dt" style="left:615.62px;top:1027.91px;width:41.91999999999996px;height:18.539999999999964px;"><div>76</div></div><div class="cell dt" style="left:657.54px;top:1027.91px;width:41.92000000000007px;height:18.539999999999964px;"><div>129</div></div><div class="cell dt" style="left:699.46px;top:1027.91px;width:41.91999999999996px;height:18.539999999999964px;"><div>125</div></div><div class="cell dt" style="left:741.38px;top:1027.91px;width:41.91999999999996px;height:18.539999999999964px;"><div>129</div></div><div class="cell dt" style="left:783.3px;top:1027.91px;width:41.92000000000007px;height:18.539999999999964px;"><div>2</div></div><div class="cell dt" style="left:825.22px;top:1027.91px;width:41.91999999999996px;height:18.539999999999964px;"><div>2</div></div><div class="cell dt" style="left:867.14px;top:1027.91px;width:42.860000000000014px;height:18.539999999999964px;"><div>2210</div></div><div class="cell dt bl" style="left:107.5px;top:1046.45px;width:47.0px;height:18.549999999999955px;"><div>125</div></div><div class="cell dt" style="left:154.5px;top:1046.45px;width:41.91999999999999px;height:18.549999999999955px;"><div>24</div></div><div class="cell dt" style="left:196.42px;top:1046.45px;width:41.920000000000016px;height:18.549999999999955px;"><div>1. 5</div></div><div class="cell dt" style="left:238.34px;top:1046.45px;width:41.91999999999999px;height:18.549999999999955px;"><div>1. 5</div></div><div class="cell dt" style="left:280.26px;top:1046.45px;width:41.920000000000016px;height:18.549999999999955px;"><div>83. 5</div></div><div class="cell dt" style="left:322.18px;top:1046.45px;width:41.920000000000016px;height:18.549999999999955px;"><div>113. 5</div></div><div class="cell dt" style="left:364.1px;top:1046.45px;width:41.91999999999996px;height:18.549999999999955px;"><div>107. 5</div></div><div class="cell dt" style="left:406.02px;top:1046.45px;width:41.920000000000016px;height:18.549999999999955px;"><div>89. 5</div></div><div class="cell dt" style="left:447.94px;top:1046.45px;width:41.920000000000016px;height:18.549999999999955px;"><div>119</div></div><div class="cell dt" style="left:489.86px;top:1046.45px;width:41.91999999999996px;height:18.549999999999955px;"><div>137</div></div><div class="cell dt" style="left:531.78px;top:1046.45px;width:41.92000000000007px;height:18.549999999999955px;"><div>4500</div></div><div class="cell dt" style="left:573.7px;top:1046.45px;width:41.91999999999996px;height:18.549999999999955px;"><div>78</div></div><div class="cell dt" style="left:615.62px;top:1046.45px;width:41.91999999999996px;height:18.549999999999955px;"><div>78</div></div><div class="cell dt" style="left:657.54px;top:1046.45px;width:41.92000000000007px;height:18.549999999999955px;"><div>117</div></div><div class="cell dt" style="left:699.46px;top:1046.45px;width:41.91999999999996px;height:18.549999999999955px;"><div>114</div></div><div class="cell dt" style="left:741.38px;top:1046.45px;width:41.91999999999996px;height:18.549999999999955px;"><div>117</div></div><div class="cell dt" style="left:783.3px;top:1046.45px;width:41.92000000000007px;height:18.549999999999955px;"><div>1. 5</div></div><div class="cell dt" style="left:825.22px;top:1046.45px;width:41.91999999999996px;height:18.549999999999955px;"><div>1. 5</div></div><div class="cell dt" style="left:867.14px;top:1046.45px;width:42.860000000000014px;height:18.549999999999955px;"><div>1130</div></div><div class="cell dt bl" style="left:107.5px;top:1065.0px;width:47.0px;height:18.549999999999955px;"><div>150</div></div><div class="cell dt" style="left:154.5px;top:1065.0px;width:41.91999999999999px;height:18.549999999999955px;"><div>35</div></div><div class="cell dt" style="left:196.42px;top:1065.0px;width:41.920000000000016px;height:18.549999999999955px;"><div>2. 1</div></div><div class="cell dt" style="left:238.34px;top:1065.0px;width:41.91999999999999px;height:18.549999999999955px;"><div>2. 1</div></div><div class="cell dt" style="left:280.26px;top:1065.0px;width:41.920000000000016px;height:18.549999999999955px;"><div>89</div></div><div class="cell dt" style="left:322.18px;top:1065.0px;width:41.920000000000016px;height:18.549999999999955px;"><div>133</div></div><div class="cell dt" style="left:364.1px;top:1065.0px;width:41.91999999999996px;height:18.549999999999955px;"><div>126. 2</div></div><div class="cell dt" style="left:406.02px;top:1065.0px;width:41.920000000000016px;height:18.549999999999955px;"><div>97. 5</div></div><div class="cell dt" style="left:447.94px;top:1065.0px;width:41.920000000000016px;height:18.549999999999955px;"><div>204</div></div><div class="cell dt" style="left:489.86px;top:1065.0px;width:41.91999999999996px;height:18.549999999999955px;"><div>220</div></div><div class="cell dt" style="left:531.78px;top:1065.0px;width:41.92000000000007px;height:18.549999999999955px;"><div>3600</div></div><div class="cell dt" style="left:573.7px;top:1065.0px;width:41.91999999999996px;height:18.549999999999955px;"><div>81</div></div><div class="cell dt" style="left:615.62px;top:1065.0px;width:41.91999999999996px;height:18.549999999999955px;"><div>81</div></div><div class="cell dt" style="left:657.54px;top:1065.0px;width:41.92000000000007px;height:18.549999999999955px;"><div>139</div></div><div class="cell dt" style="left:699.46px;top:1065.0px;width:41.91999999999996px;height:18.549999999999955px;"><div>134</div></div><div class="cell dt" style="left:741.38px;top:1065.0px;width:41.91999999999996px;height:18.549999999999955px;"><div>139</div></div><div class="cell dt" style="left:783.3px;top:1065.0px;width:41.92000000000007px;height:18.549999999999955px;"><div>2</div></div><div class="cell dt" style="left:825.22px;top:1065.0px;width:41.91999999999996px;height:18.549999999999955px;"><div>2</div></div><div class="cell dt" style="left:867.14px;top:1065.0px;width:42.860000000000014px;height:18.549999999999955px;"><div>2680</div></div><div class="cell dt bl" style="left:107.5px;top:1083.55px;width:47.0px;height:18.539999999999964px;"><div>130</div></div><div class="cell dt" style="left:154.5px;top:1083.55px;width:41.91999999999999px;height:18.539999999999964px;"><div>25</div></div><div class="cell dt" style="left:196.42px;top:1083.55px;width:41.920000000000016px;height:18.539999999999964px;"><div>1. 5</div></div><div class="cell dt" style="left:238.34px;top:1083.55px;width:41.91999999999999px;height:18.539999999999964px;"><div>1. 5</div></div><div class="cell dt" style="left:280.26px;top:1083.55px;width:41.920000000000016px;height:18.539999999999964px;"><div>88. 5</div></div><div class="cell dt" style="left:322.18px;top:1083.55px;width:41.920000000000016px;height:18.539999999999964px;"><div>118. 5</div></div><div class="cell dt" style="left:364.1px;top:1083.55px;width:41.91999999999996px;height:18.539999999999964px;"><div>112. 5</div></div><div class="cell dt" style="left:406.02px;top:1083.55px;width:41.920000000000016px;height:18.539999999999964px;"><div>94. 5</div></div><div class="cell dt" style="left:447.94px;top:1083.55px;width:41.920000000000016px;height:18.539999999999964px;"><div>130</div></div><div class="cell dt" style="left:489.86px;top:1083.55px;width:41.91999999999996px;height:18.539999999999964px;"><div>156</div></div><div class="cell dt" style="left:531.78px;top:1083.55px;width:41.92000000000007px;height:18.539999999999964px;"><div>4500</div></div><div class="cell dt" style="left:573.7px;top:1083.55px;width:41.91999999999996px;height:18.539999999999964px;"><div>83</div></div><div class="cell dt" style="left:615.62px;top:1083.55px;width:41.91999999999996px;height:18.539999999999964px;"><div>83</div></div><div class="cell dt" style="left:657.54px;top:1083.55px;width:41.92000000000007px;height:18.539999999999964px;"><div>122</div></div><div class="cell dt" style="left:699.46px;top:1083.55px;width:41.91999999999996px;height:18.539999999999964px;"><div>120</div></div><div class="cell dt" style="left:741.38px;top:1083.55px;width:41.91999999999996px;height:18.539999999999964px;"><div>122</div></div><div class="cell dt" style="left:783.3px;top:1083.55px;width:41.92000000000007px;height:18.539999999999964px;"><div>1. 5</div></div><div class="cell dt" style="left:825.22px;top:1083.55px;width:41.91999999999996px;height:18.539999999999964px;"><div>1. 5</div></div><div class="cell dt" style="left:867.14px;top:1083.55px;width:42.860000000000014px;height:18.539999999999964px;"><div>1260</div></div><div class="cell dt bl" style="left:107.5px;top:1102.09px;width:47.0px;height:18.550000000000182px;"><div>160</div></div><div class="cell dt" style="left:154.5px;top:1102.09px;width:41.91999999999999px;height:18.550000000000182px;"><div>37</div></div><div class="cell dt" style="left:196.42px;top:1102.09px;width:41.920000000000016px;height:18.550000000000182px;"><div>2. 1</div></div><div class="cell dt" style="left:238.34px;top:1102.09px;width:41.91999999999999px;height:18.550000000000182px;"><div>2. 1</div></div><div class="cell dt" style="left:280.26px;top:1102.09px;width:41.920000000000016px;height:18.550000000000182px;"><div>95</div></div><div class="cell dt" style="left:322.18px;top:1102.09px;width:41.920000000000016px;height:18.550000000000182px;"><div>143</div></div><div class="cell dt" style="left:364.1px;top:1102.09px;width:41.91999999999996px;height:18.550000000000182px;"><div>135. 6</div></div><div class="cell dt" style="left:406.02px;top:1102.09px;width:41.920000000000016px;height:18.550000000000182px;"><div>104</div></div><div class="cell dt" style="left:447.94px;top:1102.09px;width:41.920000000000016px;height:18.550000000000182px;"><div>242</div></div><div class="cell dt" style="left:489.86px;top:1102.09px;width:41.91999999999996px;height:18.550000000000182px;"><div>261</div></div><div class="cell dt" style="left:531.78px;top:1102.09px;width:41.92000000000007px;height:18.550000000000182px;"><div>3400</div></div><div class="cell dt" style="left:573.7px;top:1102.09px;width:41.91999999999996px;height:18.550000000000182px;"><div>86</div></div><div class="cell dt" style="left:615.62px;top:1102.09px;width:41.91999999999996px;height:18.550000000000182px;"><div>86</div></div><div class="cell dt" style="left:657.54px;top:1102.09px;width:41.92000000000007px;height:18.550000000000182px;"><div>149</div></div><div class="cell dt" style="left:699.46px;top:1102.09px;width:41.91999999999996px;height:18.550000000000182px;"><div>143</div></div><div class="cell dt" style="left:741.38px;top:1102.09px;width:41.91999999999996px;height:18.550000000000182px;"><div>149</div></div><div class="cell dt" style="left:783.3px;top:1102.09px;width:41.92000000000007px;height:18.550000000000182px;"><div>2</div></div><div class="cell dt" style="left:825.22px;top:1102.09px;width:41.91999999999996px;height:18.550000000000182px;"><div>2</div></div><div class="cell dt" style="left:867.14px;top:1102.09px;width:42.860000000000014px;height:18.550000000000182px;"><div>3250</div></div><div class="cell dt bl" style="left:107.5px;top:1120.64px;width:47.0px;height:18.539999999999964px;"><div>140</div></div><div class="cell dt" style="left:154.5px;top:1120.64px;width:41.91999999999999px;height:18.539999999999964px;"><div>26</div></div><div class="cell dt" style="left:196.42px;top:1120.64px;width:41.920000000000016px;height:18.539999999999964px;"><div>2</div></div><div class="cell dt" style="left:238.34px;top:1120.64px;width:41.91999999999999px;height:18.539999999999964px;"><div>2</div></div><div class="cell dt" style="left:280.26px;top:1120.64px;width:41.920000000000016px;height:18.539999999999964px;"><div>95. 3</div></div><div class="cell dt" style="left:322.18px;top:1120.64px;width:41.920000000000016px;height:18.539999999999964px;"><div>127. 3</div></div><div class="cell dt" style="left:364.1px;top:1120.64px;width:41.91999999999996px;height:18.539999999999964px;"><div>121. 7</div></div><div class="cell dt" style="left:406.02px;top:1120.64px;width:41.920000000000016px;height:18.539999999999964px;"><div>101. 1</div></div><div class="cell dt" style="left:447.94px;top:1120.64px;width:41.920000000000016px;height:18.539999999999964px;"><div>139</div></div><div class="cell dt" style="left:489.86px;top:1120.64px;width:41.91999999999996px;height:18.539999999999964px;"><div>167</div></div><div class="cell dt" style="left:531.78px;top:1120.64px;width:41.92000000000007px;height:18.539999999999964px;"><div>4000</div></div><div class="cell dt" style="left:573.7px;top:1120.64px;width:41.91999999999996px;height:18.539999999999964px;"><div>89</div></div><div class="cell dt" style="left:615.62px;top:1120.64px;width:41.91999999999996px;height:18.539999999999964px;"><div>89</div></div><div class="cell dt" style="left:657.54px;top:1120.64px;width:41.92000000000007px;height:18.539999999999964px;"><div>131</div></div><div class="cell dt" style="left:699.46px;top:1120.64px;width:41.91999999999996px;height:18.539999999999964px;"><div>128</div></div><div class="cell dt" style="left:741.38px;top:1120.64px;width:41.91999999999996px;height:18.539999999999964px;"><div>131</div></div><div class="cell dt" style="left:783.3px;top:1120.64px;width:41.92000000000007px;height:18.539999999999964px;"><div>2</div></div><div class="cell dt" style="left:825.22px;top:1120.64px;width:41.91999999999996px;height:18.539999999999964px;"><div>2</div></div><div class="cell dt" style="left:867.14px;top:1120.64px;width:42.860000000000014px;height:18.539999999999964px;"><div>1520</div></div><div class="cell dt bl" style="left:107.5px;top:1139.18px;width:47.0px;height:18.549999999999955px;"><div>170</div></div><div class="cell dt" style="left:154.5px;top:1139.18px;width:41.91999999999999px;height:18.549999999999955px;"><div>39</div></div><div class="cell dt" style="left:196.42px;top:1139.18px;width:41.920000000000016px;height:18.549999999999955px;"><div>2. 1</div></div><div class="cell dt" style="left:238.34px;top:1139.18px;width:41.91999999999999px;height:18.549999999999955px;"><div>2. 1</div></div><div class="cell dt" style="left:280.26px;top:1139.18px;width:41.920000000000016px;height:18.549999999999955px;"><div>101</div></div><div class="cell dt" style="left:322.18px;top:1139.18px;width:41.920000000000016px;height:18.549999999999955px;"><div>151</div></div><div class="cell dt" style="left:364.1px;top:1139.18px;width:41.91999999999996px;height:18.549999999999955px;"><div>143. 3</div></div><div class="cell dt" style="left:406.02px;top:1139.18px;width:41.920000000000016px;height:18.549999999999955px;"><div>110. 1</div></div><div class="cell dt" style="left:447.94px;top:1139.18px;width:41.920000000000016px;height:18.549999999999955px;"><div>260</div></div><div class="cell dt" style="left:489.86px;top:1139.18px;width:41.91999999999996px;height:18.549999999999955px;"><div>284</div></div><div class="cell dt" style="left:531.78px;top:1139.18px;width:41.92000000000007px;height:18.549999999999955px;"><div>3200</div></div><div class="cell dt" style="left:573.7px;top:1139.18px;width:41.91999999999996px;height:18.549999999999955px;"><div>91</div></div><div class="cell dt" style="left:615.62px;top:1139.18px;width:41.91999999999996px;height:18.549999999999955px;"><div>91</div></div><div class="cell dt" style="left:657.54px;top:1139.18px;width:41.92000000000007px;height:18.549999999999955px;"><div>159</div></div><div class="cell dt" style="left:699.46px;top:1139.18px;width:41.91999999999996px;height:18.549999999999955px;"><div>151</div></div><div class="cell dt" style="left:741.38px;top:1139.18px;width:41.91999999999996px;height:18.549999999999955px;"><div>159</div></div><div class="cell dt" style="left:783.3px;top:1139.18px;width:41.92000000000007px;height:18.549999999999955px;"><div>2</div></div><div class="cell dt" style="left:825.22px;top:1139.18px;width:41.91999999999996px;height:18.549999999999955px;"><div>2</div></div><div class="cell dt" style="left:867.14px;top:1139.18px;width:42.860000000000014px;height:18.549999999999955px;"><div>3880</div></div><div class="cell dt bl" style="left:107.5px;top:1157.73px;width:47.0px;height:18.539999999999964px;"><div>150</div></div><div class="cell dt" style="left:154.5px;top:1157.73px;width:41.91999999999999px;height:18.539999999999964px;"><div>28</div></div><div class="cell dt" style="left:196.42px;top:1157.73px;width:41.920000000000016px;height:18.539999999999964px;"><div>2</div></div><div class="cell dt" style="left:238.34px;top:1157.73px;width:41.91999999999999px;height:18.539999999999964px;"><div>2</div></div><div class="cell dt" style="left:280.26px;top:1157.73px;width:41.920000000000016px;height:18.539999999999964px;"><div>100. 5</div></div><div class="cell dt" style="left:322.18px;top:1157.73px;width:41.920000000000016px;height:18.539999999999964px;"><div>136. 5</div></div><div class="cell dt" style="left:364.1px;top:1157.73px;width:41.91999999999996px;height:18.539999999999964px;"><div>130. 2</div></div><div class="cell dt" style="left:406.02px;top:1157.73px;width:41.920000000000016px;height:18.539999999999964px;"><div>107. 1</div></div><div class="cell dt" style="left:447.94px;top:1157.73px;width:41.920000000000016px;height:18.539999999999964px;"><div>166</div></div><div class="cell dt" style="left:489.86px;top:1157.73px;width:41.91999999999996px;height:18.539999999999964px;"><div>196</div></div><div class="cell dt" style="left:531.78px;top:1157.73px;width:41.92000000000007px;height:18.539999999999964px;"><div>3800</div></div><div class="cell dt" style="left:573.7px;top:1157.73px;width:41.91999999999996px;height:18.539999999999964px;"><div>94</div></div><div class="cell dt" style="left:615.62px;top:1157.73px;width:41.91999999999996px;height:18.539999999999964px;"><div>94</div></div><div class="cell dt" style="left:657.54px;top:1157.73px;width:41.92000000000007px;height:18.539999999999964px;"><div>141</div></div><div class="cell dt" style="left:699.46px;top:1157.73px;width:41.91999999999996px;height:18.539999999999964px;"><div>137</div></div><div class="cell dt" style="left:741.38px;top:1157.73px;width:41.91999999999996px;height:18.539999999999964px;"><div>141</div></div><div class="cell dt" style="left:783.3px;top:1157.73px;width:41.92000000000007px;height:18.539999999999964px;"><div>2</div></div><div class="cell dt" style="left:825.22px;top:1157.73px;width:41.91999999999996px;height:18.539999999999964px;"><div>2</div></div><div class="cell dt" style="left:867.14px;top:1157.73px;width:42.860000000000014px;height:18.539999999999964px;"><div>1890</div></div><div class="cell dt bl" style="left:107.5px;top:1176.27px;width:47.0px;height:18.549999999999955px;"><div>180</div></div><div class="cell dt" style="left:154.5px;top:1176.27px;width:41.91999999999999px;height:18.549999999999955px;"><div>41</div></div><div class="cell dt" style="left:196.42px;top:1176.27px;width:41.920000000000016px;height:18.549999999999955px;"><div>3</div></div><div class="cell dt" style="left:238.34px;top:1176.27px;width:41.91999999999999px;height:18.549999999999955px;"><div>3</div></div><div class="cell dt" style="left:280.26px;top:1176.27px;width:41.920000000000016px;height:18.549999999999955px;"><div>108</div></div><div class="cell dt" style="left:322.18px;top:1176.27px;width:41.920000000000016px;height:18.549999999999955px;"><div>160</div></div><div class="cell dt" style="left:364.1px;top:1176.27px;width:41.91999999999996px;height:18.549999999999955px;"><div>153</div></div><div class="cell dt" style="left:406.02px;top:1176.27px;width:41.920000000000016px;height:18.549999999999955px;"><div>117. 4</div></div><div class="cell dt" style="left:447.94px;top:1176.27px;width:41.920000000000016px;height:18.549999999999955px;"><div>293</div></div><div class="cell dt" style="left:489.86px;top:1176.27px;width:41.91999999999996px;height:18.549999999999955px;"><div>333</div></div><div class="cell dt" style="left:531.78px;top:1176.27px;width:41.92000000000007px;height:18.549999999999955px;"><div>3000</div></div><div class="cell dt" style="left:573.7px;top:1176.27px;width:41.91999999999996px;height:18.549999999999955px;"><div>98</div></div><div class="cell dt" style="left:615.62px;top:1176.27px;width:41.91999999999996px;height:18.549999999999955px;"><div>98</div></div><div class="cell dt" style="left:657.54px;top:1176.27px;width:41.92000000000007px;height:18.549999999999955px;"><div>167</div></div><div class="cell dt" style="left:699.46px;top:1176.27px;width:41.91999999999996px;height:18.549999999999955px;"><div>160</div></div><div class="cell dt" style="left:741.38px;top:1176.27px;width:41.91999999999996px;height:18.549999999999955px;"><div>167</div></div><div class="cell dt" style="left:783.3px;top:1176.27px;width:41.92000000000007px;height:18.549999999999955px;"><div>2. 5</div></div><div class="cell dt" style="left:825.22px;top:1176.27px;width:41.91999999999996px;height:18.549999999999955px;"><div>2. 5</div></div><div class="cell dt" style="left:867.14px;top:1176.27px;width:42.860000000000014px;height:18.549999999999955px;"><div>4610</div></div><div class="cell dt bl" style="left:107.5px;top:1194.82px;width:47.0px;height:18.539999999999964px;"><div>160</div></div><div class="cell dt" style="left:154.5px;top:1194.82px;width:41.91999999999999px;height:18.539999999999964px;"><div>30</div></div><div class="cell dt" style="left:196.42px;top:1194.82px;width:41.920000000000016px;height:18.539999999999964px;"><div>2</div></div><div class="cell dt" style="left:238.34px;top:1194.82px;width:41.91999999999999px;height:18.539999999999964px;"><div>2</div></div><div class="cell dt" style="left:280.26px;top:1194.82px;width:41.920000000000016px;height:18.539999999999964px;"><div>107</div></div><div class="cell dt" style="left:322.18px;top:1194.82px;width:41.920000000000016px;height:18.539999999999964px;"><div>145</div></div><div class="cell dt" style="left:364.1px;top:1194.82px;width:41.91999999999996px;height:18.539999999999964px;"><div>138. 4</div></div><div class="cell dt" style="left:406.02px;top:1194.82px;width:41.920000000000016px;height:18.539999999999964px;"><div>113. 9</div></div><div class="cell dt" style="left:447.94px;top:1194.82px;width:41.920000000000016px;height:18.539999999999964px;"><div>183</div></div><div class="cell dt" style="left:489.86px;top:1194.82px;width:41.91999999999996px;height:18.539999999999964px;"><div>220</div></div><div class="cell dt" style="left:531.78px;top:1194.82px;width:41.92000000000007px;height:18.539999999999964px;"><div>3600</div></div><div class="cell dt" style="left:573.7px;top:1194.82px;width:41.91999999999996px;height:18.539999999999964px;"><div>99</div></div><div class="cell dt" style="left:615.62px;top:1194.82px;width:41.91999999999996px;height:18.539999999999964px;"><div>99</div></div><div class="cell dt" style="left:657.54px;top:1194.82px;width:41.92000000000007px;height:18.539999999999964px;"><div>151</div></div><div class="cell dt" style="left:699.46px;top:1194.82px;width:41.91999999999996px;height:18.539999999999964px;"><div>146</div></div><div class="cell dt" style="left:741.38px;top:1194.82px;width:41.91999999999996px;height:18.539999999999964px;"><div>151</div></div><div class="cell dt" style="left:783.3px;top:1194.82px;width:41.92000000000007px;height:18.539999999999964px;"><div>2</div></div><div class="cell dt" style="left:825.22px;top:1194.82px;width:41.91999999999996px;height:18.539999999999964px;"><div>2</div></div><div class="cell dt" style="left:867.14px;top:1194.82px;width:42.860000000000014px;height:18.539999999999964px;"><div>2320</div></div><div class="cell dt bl" style="left:107.5px;top:1213.36px;width:47.0px;height:18.550000000000182px;"><div>190</div></div><div class="cell dt" style="left:154.5px;top:1213.36px;width:41.91999999999999px;height:18.550000000000182px;"><div>43</div></div><div class="cell dt" style="left:196.42px;top:1213.36px;width:41.920000000000016px;height:18.550000000000182px;"><div>3</div></div><div class="cell dt" style="left:238.34px;top:1213.36px;width:41.91999999999999px;height:18.550000000000182px;"><div>3</div></div><div class="cell dt" style="left:280.26px;top:1213.36px;width:41.920000000000016px;height:18.550000000000182px;"><div>113. 5</div></div><div class="cell dt" style="left:322.18px;top:1213.36px;width:41.920000000000016px;height:18.550000000000182px;"><div>169. 5</div></div><div class="cell dt" style="left:364.1px;top:1213.36px;width:41.91999999999996px;height:18.550000000000182px;"><div>160. 8</div></div><div class="cell dt" style="left:406.02px;top:1213.36px;width:41.920000000000016px;height:18.550000000000182px;"><div>123. 7</div></div><div class="cell dt" style="left:447.94px;top:1213.36px;width:41.920000000000016px;height:18.550000000000182px;"><div>313</div></div><div class="cell dt" style="left:489.86px;top:1213.36px;width:41.91999999999996px;height:18.550000000000182px;"><div>349</div></div><div class="cell dt" style="left:531.78px;top:1213.36px;width:41.92000000000007px;height:18.550000000000182px;"><div>2800</div></div><div class="cell dt" style="left:573.7px;top:1213.36px;width:41.91999999999996px;height:18.550000000000182px;"><div>103</div></div><div class="cell dt" style="left:615.62px;top:1213.36px;width:41.91999999999996px;height:18.550000000000182px;"><div>103</div></div><div class="cell dt" style="left:657.54px;top:1213.36px;width:41.92000000000007px;height:18.550000000000182px;"><div>177</div></div><div class="cell dt" style="left:699.46px;top:1213.36px;width:41.91999999999996px;height:18.550000000000182px;"><div>169</div></div><div class="cell dt" style="left:741.38px;top:1213.36px;width:41.91999999999996px;height:18.550000000000182px;"><div>177</div></div><div class="cell dt" style="left:783.3px;top:1213.36px;width:41.92000000000007px;height:18.550000000000182px;"><div>2. 5</div></div><div class="cell dt" style="left:825.22px;top:1213.36px;width:41.91999999999996px;height:18.550000000000182px;"><div>2. 5</div></div><div class="cell dt" style="left:867.14px;top:1213.36px;width:42.860000000000014px;height:18.550000000000182px;"><div>5270</div></div><div class="cell dt bl" style="left:107.5px;top:1231.91px;width:47.0px;height:18.539999999999964px;"><div>170</div></div><div class="cell dt" style="left:154.5px;top:1231.91px;width:41.91999999999999px;height:18.539999999999964px;"><div>32</div></div><div class="cell dt" style="left:196.42px;top:1231.91px;width:41.920000000000016px;height:18.539999999999964px;"><div>2. 1</div></div><div class="cell dt" style="left:238.34px;top:1231.91px;width:41.91999999999999px;height:18.539999999999964px;"><div>2. 1</div></div><div class="cell dt" style="left:280.26px;top:1231.91px;width:41.920000000000016px;height:18.539999999999964px;"><div>112. 5</div></div><div class="cell dt" style="left:322.18px;top:1231.91px;width:41.920000000000016px;height:18.539999999999964px;"><div>154. 5</div></div><div class="cell dt" style="left:364.1px;top:1231.91px;width:41.91999999999996px;height:18.539999999999964px;"><div>147. 2</div></div><div class="cell dt" style="left:406.02px;top:1231.91px;width:41.920000000000016px;height:18.539999999999964px;"><div>120. 2</div></div><div class="cell dt" style="left:447.94px;top:1231.91px;width:41.920000000000016px;height:18.539999999999964px;"><div>220</div></div><div class="cell dt" style="left:489.86px;top:1231.91px;width:41.91999999999996px;height:18.539999999999964px;"><div>265</div></div><div class="cell dt" style="left:531.78px;top:1231.91px;width:41.92000000000007px;height:18.539999999999964px;"><div>3400</div></div><div class="cell dt" style="left:573.7px;top:1231.91px;width:41.91999999999996px;height:18.539999999999964px;"><div>106</div></div><div class="cell dt" style="left:615.62px;top:1231.91px;width:41.91999999999996px;height:18.539999999999964px;"><div>106</div></div><div class="cell dt" style="left:657.54px;top:1231.91px;width:41.92000000000007px;height:18.539999999999964px;"><div>159</div></div><div class="cell dt" style="left:699.46px;top:1231.91px;width:41.91999999999996px;height:18.539999999999964px;"><div>155</div></div><div class="cell dt" style="left:741.38px;top:1231.91px;width:41.91999999999996px;height:18.539999999999964px;"><div>159</div></div><div class="cell dt" style="left:783.3px;top:1231.91px;width:41.92000000000007px;height:18.539999999999964px;"><div>2</div></div><div class="cell dt" style="left:825.22px;top:1231.91px;width:41.91999999999996px;height:18.539999999999964px;"><div>2</div></div><div class="cell dt" style="left:867.14px;top:1231.91px;width:42.860000000000014px;height:18.539999999999964px;"><div>2850</div></div><div class="cell dt bl" style="left:107.5px;top:1250.45px;width:47.0px;height:18.549999999999955px;"><div>180</div></div><div class="cell dt" style="left:154.5px;top:1250.45px;width:41.91999999999999px;height:18.549999999999955px;"><div>34</div></div><div class="cell dt" style="left:196.42px;top:1250.45px;width:41.920000000000016px;height:18.549999999999955px;"><div>2. 1</div></div><div class="cell dt" style="left:238.34px;top:1250.45px;width:41.91999999999999px;height:18.549999999999955px;"><div>2. 1</div></div><div class="cell dt" style="left:280.26px;top:1250.45px;width:41.920000000000016px;height:18.549999999999955px;"><div>119</div></div><div class="cell dt" style="left:322.18px;top:1250.45px;width:41.920000000000016px;height:18.549999999999955px;"><div>163</div></div><div class="cell dt" style="left:364.1px;top:1250.45px;width:41.91999999999996px;height:18.549999999999955px;"><div>155. 3</div></div><div class="cell dt" style="left:406.02px;top:1250.45px;width:41.920000000000016px;height:18.549999999999955px;"><div>127</div></div><div class="cell dt" style="left:447.94px;top:1250.45px;width:41.920000000000016px;height:18.549999999999955px;"><div>247</div></div><div class="cell dt" style="left:489.86px;top:1250.45px;width:41.91999999999996px;height:18.549999999999955px;"><div>303</div></div><div class="cell dt" style="left:531.78px;top:1250.45px;width:41.92000000000007px;height:18.549999999999955px;"><div>3200</div></div><div class="cell dt" style="left:573.7px;top:1250.45px;width:41.91999999999996px;height:18.549999999999955px;"><div>111</div></div><div class="cell dt" style="left:615.62px;top:1250.45px;width:41.91999999999996px;height:18.549999999999955px;"><div>111</div></div><div class="cell dt" style="left:657.54px;top:1250.45px;width:41.92000000000007px;height:18.549999999999955px;"><div>169</div></div><div class="cell dt" style="left:699.46px;top:1250.45px;width:41.91999999999996px;height:18.549999999999955px;"><div>164</div></div><div class="cell dt" style="left:741.38px;top:1250.45px;width:41.91999999999996px;height:18.549999999999955px;"><div>169</div></div><div class="cell dt" style="left:783.3px;top:1250.45px;width:41.92000000000007px;height:18.549999999999955px;"><div>2</div></div><div class="cell dt" style="left:825.22px;top:1250.45px;width:41.91999999999996px;height:18.549999999999955px;"><div>2</div></div><div class="cell dt" style="left:867.14px;top:1250.45px;width:42.860000000000014px;height:18.549999999999955px;"><div>3450</div></div>
<div class="cell bl" style="left:0px;top:924px;width:59.5px;height:18px;font-size:12.4px"><div><span class="cd">BCHA</span></div></div>
<div class="cell bl" style="left:0px;top:954.5px;width:59.5px;height:18.0px;font-size:12.4px"><div><span class="cd">BCHB</span></div></div>
<div class="cell bl" style="left:0px;top:985px;width:59.5px;height:18px;font-size:12.4px"><div><span class="cd">BCHC</span></div></div>
<div class="a" style="left:0;top:1281px;width:910px;height:96px;border:1.5px solid #f4a66c"></div>
<svg class="a" style="left:0;top:0" width="910" height="1377"><circle cx="53.6" cy="1328.9" r="24.5" fill="none" stroke="#3a77a8" stroke-width="4"/><path d="M70.5,1317.5 H62 L58,1335.2" fill="none" stroke="#3a77a8" stroke-width="2.3" stroke-linejoin="miter"/><path d="M35.5,1323.7 H60.5 M38.2,1329.3 H59.2 M40.5,1334.9 H58" fill="none" stroke="#3a77a8" stroke-width="2.1"/><circle cx="42.3" cy="1341.5" r="2.1" fill="#3a77a8"/><circle cx="59" cy="1341.2" r="3.2" fill="#3a77a8"/><circle cx="613" cy="1328.7" r="24.6" fill="none" stroke="#3a77a8" stroke-width="4"/><g fill="none" stroke="#3a77a8" stroke-width="1.6" stroke-linejoin="round"><path d="M598.2,1324.4 L612.7,1333 L627.2,1325 L613.3,1316.5 Z"/><path d="M598.2,1324.4 V1335.9 L612.7,1344.6 V1333 M612.7,1344.6 L627.2,1335.3 V1325"/><path d="M605,1313.5 H613.5 L627.2,1324.6"/></g><path d="M605,1313.5 L618.8,1329.6 L627.2,1325 L613.5,1313.5 Z" fill="#3a77a8"/><path d="M600.5,1328.9 L610.4,1334.6 V1339.9 L600.5,1334.2 Z" fill="#3a77a8"/><rect x="153.3" y="1300.6" width="214.10" height="56.40" fill="#fff" stroke="#444" stroke-width="1.4"/><line x1="153.3" y1="1319.6" x2="367.4" y2="1319.6" stroke="#777" stroke-width="1"/><line x1="153.3" y1="1338" x2="367.4" y2="1338" stroke="#777" stroke-width="1"/><line x1="212.7" y1="1319.6" x2="212.7" y2="1357" stroke="#555" stroke-width="1"/><line x1="230.4" y1="1319.6" x2="230.4" y2="1357" stroke="#555" stroke-width="1"/><line x1="290.3" y1="1319.6" x2="290.3" y2="1357" stroke="#555" stroke-width="1"/><line x1="308" y1="1319.6" x2="308" y2="1357" stroke="#555" stroke-width="1"/><rect x="712.1" y="1314.3" width="89.4" height="29" rx="5" ry="5" fill="#c4e2f4" stroke="#555" stroke-width="1.2"/></svg><svg class="a" style="left:0;top:0" width="910" height="1377"><g fill="#111"><rect x="825.20" y="1291.40" width="2.53" height="2.53"/><rect x="827.58" y="1291.40" width="2.53" height="2.53"/><rect x="829.97" y="1291.40" width="2.53" height="2.53"/><rect x="832.35" y="1291.40" width="2.53" height="2.53"/><rect x="834.74" y="1291.40" width="2.53" height="2.53"/><rect x="837.12" y="1291.40" width="2.53" height="2.53"/><rect x="839.50" y="1291.40" width="2.53" height="2.53"/><rect x="844.27" y="1291.40" width="2.53" height="2.53"/><rect x="846.66" y="1291.40" width="2.53" height="2.53"/><rect x="849.04" y="1291.40" width="2.53" height="2.53"/><rect x="851.42" y="1291.40" width="2.53" height="2.53"/><rect x="853.81" y="1291.40" width="2.53" height="2.53"/><rect x="858.58" y="1291.40" width="2.53" height="2.53"/><rect x="860.96" y="1291.40" width="2.53" height="2.53"/><rect x="868.11" y="1291.40" width="2.53" height="2.53"/><rect x="870.50" y="1291.40" width="2.53" height="2.53"/><rect x="872.88" y="1291.40" width="2.53" height="2.53"/><rect x="875.26" y="1291.40" width="2.53" height="2.53"/><rect x="877.65" y="1291.40" width="2.53" height="2.53"/><rect x="880.03" y="1291.40" width="2.53" height="2.53"/><rect x="882.42" y="1291.40" width="2.53" height="2.53"/><rect x="825.20" y="1293.78" width="2.53" height="2.53"/><rect x="839.50" y="1293.78" width="2.53" height="2.53"/><rect x="844.27" y="1293.78" width="2.53" height="2.53"/><rect x="846.66" y="1293.78" width="2.53" height="2.53"/><rect x="849.04" y="1293.78" width="2.53" height="2.53"/><rect x="853.81" y="1293.78" width="2.53" height="2.53"/><rect x="856.19" y="1293.78" width="2.53" height="2.53"/><rect x="860.96" y="1293.78" width="2.53" height="2.53"/><rect x="863.34" y="1293.78" width="2.53" height="2.53"/><rect x="868.11" y="1293.78" width="2.53" height="2.53"/><rect x="882.42" y="1293.78" width="2.53" height="2.53"/><rect x="825.20" y="1296.17" width="2.53" height="2.53"/><rect x="829.97" y="1296.17" width="2.53" height="2.53"/><rect x="832.35" y="1296.17" width="2.53" height="2.53"/><rect x="834.74" y="1296.17" width="2.53" height="2.53"/><rect x="839.50" y="1296.17" width="2.53" height="2.53"/><rect x="851.42" y="1296.17" width="2.53" height="2.53"/><rect x="860.96" y="1296.17" width="2.53" height="2.53"/><rect x="868.11" y="1296.17" width="2.53" height="2.53"/><rect x="872.88" y="1296.17" width="2.53" height="2.53"/><rect x="875.26" y="1296.17" width="2.53" height="2.53"/><rect x="877.65" y="1296.17" width="2.53" height="2.53"/><rect x="882.42" y="1296.17" width="2.53" height="2.53"/><rect x="825.20" y="1298.55" width="2.53" height="2.53"/><rect x="829.97" y="1298.55" width="2.53" height="2.53"/><rect x="832.35" y="1298.55" width="2.53" height="2.53"/><rect x="834.74" y="1298.55" width="2.53" height="2.53"/><rect x="839.50" y="1298.55" width="2.53" height="2.53"/><rect x="846.66" y="1298.55" width="2.53" height="2.53"/><rect x="849.04" y="1298.55" width="2.53" height="2.53"/><rect x="851.42" y="1298.55" width="2.53" height="2.53"/><rect x="856.19" y="1298.55" width="2.53" height="2.53"/><rect x="858.58" y="1298.55" width="2.53" height="2.53"/><rect x="868.11" y="1298.55" width="2.53" height="2.53"/><rect x="872.88" y="1298.55" width="2.53" height="2.53"/><rect x="875.26" y="1298.55" width="2.53" height="2.53"/><rect x="877.65" y="1298.55" width="2.53" height="2.53"/><rect x="882.42" y="1298.55" width="2.53" height="2.53"/><rect x="825.20" y="1300.94" width="2.53" height="2.53"/><rect x="829.97" y="1300.94" width="2.53" height="2.53"/><rect x="832.35" y="1300.94" width="2.53" height="2.53"/><rect x="834.74" y="1300.94" width="2.53" height="2.53"/><rect x="839.50" y="1300.94" width="2.53" height="2.53"/><rect x="844.27" y="1300.94" width="2.53" height="2.53"/><rect x="860.96" y="1300.94" width="2.53" height="2.53"/><rect x="868.11" y="1300.94" width="2.53" height="2.53"/><rect x="872.88" y="1300.94" width="2.53" height="2.53"/><rect x="875.26" y="1300.94" width="2.53" height="2.53"/><rect x="877.65" y="1300.94" width="2.53" height="2.53"/><rect x="882.42" y="1300.94" width="2.53" height="2.53"/><rect x="825.20" y="1303.32" width="2.53" height="2.53"/><rect x="839.50" y="1303.32" width="2.53" height="2.53"/><rect x="844.27" y="1303.32" width="2.53" height="2.53"/><rect x="846.66" y="1303.32" width="2.53" height="2.53"/><rect x="853.81" y="1303.32" width="2.53" height="2.53"/><rect x="856.19" y="1303.32" width="2.53" height="2.53"/><rect x="858.58" y="1303.32" width="2.53" height="2.53"/><rect x="860.96" y="1303.32" width="2.53" height="2.53"/><rect x="863.34" y="1303.32" width="2.53" height="2.53"/><rect x="868.11" y="1303.32" width="2.53" height="2.53"/><rect x="882.42" y="1303.32" width="2.53" height="2.53"/><rect x="825.20" y="1305.70" width="2.53" height="2.53"/><rect x="827.58" y="1305.70" width="2.53" height="2.53"/><rect x="829.97" y="1305.70" width="2.53" height="2.53"/><rect x="832.35" y="1305.70" width="2.53" height="2.53"/><rect x="834.74" y="1305.70" width="2.53" height="2.53"/><rect x="837.12" y="1305.70" width="2.53" height="2.53"/><rect x="839.50" y="1305.70" width="2.53" height="2.53"/><rect x="844.27" y="1305.70" width="2.53" height="2.53"/><rect x="849.04" y="1305.70" width="2.53" height="2.53"/><rect x="853.81" y="1305.70" width="2.53" height="2.53"/><rect x="858.58" y="1305.70" width="2.53" height="2.53"/><rect x="863.34" y="1305.70" width="2.53" height="2.53"/><rect x="868.11" y="1305.70" width="2.53" height="2.53"/><rect x="870.50" y="1305.70" width="2.53" height="2.53"/><rect x="872.88" y="1305.70" width="2.53" height="2.53"/><rect x="875.26" y="1305.70" width="2.53" height="2.53"/><rect x="877.65" y="1305.70" width="2.53" height="2.53"/><rect x="880.03" y="1305.70" width="2.53" height="2.53"/><rect x="882.42" y="1305.70" width="2.53" height="2.53"/><rect x="849.04" y="1308.09" width="2.53" height="2.53"/><rect x="858.58" y="1308.09" width="2.53" height="2.53"/><rect x="860.96" y="1308.09" width="2.53" height="2.53"/><rect x="863.34" y="1308.09" width="2.53" height="2.53"/><rect x="825.20" y="1310.47" width="2.53" height="2.53"/><rect x="837.12" y="1310.47" width="2.53" height="2.53"/><rect x="839.50" y="1310.47" width="2.53" height="2.53"/><rect x="844.27" y="1310.47" width="2.53" height="2.53"/><rect x="851.42" y="1310.47" width="2.53" height="2.53"/><rect x="853.81" y="1310.47" width="2.53" height="2.53"/><rect x="860.96" y="1310.47" width="2.53" height="2.53"/><rect x="863.34" y="1310.47" width="2.53" height="2.53"/><rect x="865.73" y="1310.47" width="2.53" height="2.53"/><rect x="872.88" y="1310.47" width="2.53" height="2.53"/><rect x="882.42" y="1310.47" width="2.53" height="2.53"/><rect x="827.58" y="1312.86" width="2.53" height="2.53"/><rect x="829.97" y="1312.86" width="2.53" height="2.53"/><rect x="841.89" y="1312.86" width="2.53" height="2.53"/><rect x="849.04" y="1312.86" width="2.53" height="2.53"/><rect x="851.42" y="1312.86" width="2.53" height="2.53"/><rect x="853.81" y="1312.86" width="2.53" height="2.53"/><rect x="856.19" y="1312.86" width="2.53" height="2.53"/><rect x="860.96" y="1312.86" width="2.53" height="2.53"/><rect x="863.34" y="1312.86" width="2.53" height="2.53"/><rect x="865.73" y="1312.86" width="2.53" height="2.53"/><rect x="870.50" y="1312.86" width="2.53" height="2.53"/><rect x="872.88" y="1312.86" width="2.53" height="2.53"/><rect x="880.03" y="1312.86" width="2.53" height="2.53"/><rect x="832.35" y="1315.24" width="2.53" height="2.53"/><rect x="834.74" y="1315.24" width="2.53" height="2.53"/><rect x="837.12" y="1315.24" width="2.53" height="2.53"/><rect x="839.50" y="1315.24" width="2.53" height="2.53"/><rect x="844.27" y="1315.24" width="2.53" height="2.53"/><rect x="846.66" y="1315.24" width="2.53" height="2.53"/><rect x="853.81" y="1315.24" width="2.53" height="2.53"/><rect x="863.34" y="1315.24" width="2.53" height="2.53"/><rect x="868.11" y="1315.24" width="2.53" height="2.53"/><rect x="870.50" y="1315.24" width="2.53" height="2.53"/><rect x="825.20" y="1317.62" width="2.53" height="2.53"/><rect x="837.12" y="1317.62" width="2.53" height="2.53"/><rect x="841.89" y="1317.62" width="2.53" height="2.53"/><rect x="853.81" y="1317.62" width="2.53" height="2.53"/><rect x="863.34" y="1317.62" width="2.53" height="2.53"/><rect x="865.73" y="1317.62" width="2.53" height="2.53"/><rect x="868.11" y="1317.62" width="2.53" height="2.53"/><rect x="870.50" y="1317.62" width="2.53" height="2.53"/><rect x="872.88" y="1317.62" width="2.53" height="2.53"/><rect x="875.26" y="1317.62" width="2.53" height="2.53"/><rect x="825.20" y="1320.01" width="2.53" height="2.53"/><rect x="832.35" y="1320.01" width="2.53" height="2.53"/><rect x="839.50" y="1320.01" width="2.53" height="2.53"/><rect x="844.27" y="1320.01" width="2.53" height="2.53"/><rect x="846.66" y="1320.01" width="2.53" height="2.53"/><rect x="853.81" y="1320.01" width="2.53" height="2.53"/><rect x="856.19" y="1320.01" width="2.53" height="2.53"/><rect x="860.96" y="1320.01" width="2.53" height="2.53"/><rect x="863.34" y="1320.01" width="2.53" height="2.53"/><rect x="865.73" y="1320.01" width="2.53" height="2.53"/><rect x="870.50" y="1320.01" width="2.53" height="2.53"/><rect x="875.26" y="1320.01" width="2.53" height="2.53"/><rect x="877.65" y="1320.01" width="2.53" height="2.53"/><rect x="880.03" y="1320.01" width="2.53" height="2.53"/><rect x="827.58" y="1322.39" width="2.53" height="2.53"/><rect x="837.12" y="1322.39" width="2.53" height="2.53"/><rect x="841.89" y="1322.39" width="2.53" height="2.53"/><rect x="846.66" y="1322.39" width="2.53" height="2.53"/><rect x="849.04" y="1322.39" width="2.53" height="2.53"/><rect x="851.42" y="1322.39" width="2.53" height="2.53"/><rect x="858.58" y="1322.39" width="2.53" height="2.53"/><rect x="860.96" y="1322.39" width="2.53" height="2.53"/><rect x="870.50" y="1322.39" width="2.53" height="2.53"/><rect x="872.88" y="1322.39" width="2.53" height="2.53"/><rect x="877.65" y="1322.39" width="2.53" height="2.53"/><rect x="880.03" y="1322.39" width="2.53" height="2.53"/><rect x="829.97" y="1324.78" width="2.53" height="2.53"/><rect x="834.74" y="1324.78" width="2.53" height="2.53"/><rect x="839.50" y="1324.78" width="2.53" height="2.53"/><rect x="841.89" y="1324.78" width="2.53" height="2.53"/><rect x="849.04" y="1324.78" width="2.53" height="2.53"/><rect x="851.42" y="1324.78" width="2.53" height="2.53"/><rect x="856.19" y="1324.78" width="2.53" height="2.53"/><rect x="858.58" y="1324.78" width="2.53" height="2.53"/><rect x="860.96" y="1324.78" width="2.53" height="2.53"/><rect x="863.34" y="1324.78" width="2.53" height="2.53"/><rect x="865.73" y="1324.78" width="2.53" height="2.53"/><rect x="868.11" y="1324.78" width="2.53" height="2.53"/><rect x="870.50" y="1324.78" width="2.53" height="2.53"/><rect x="875.26" y="1324.78" width="2.53" height="2.53"/><rect x="880.03" y="1324.78" width="2.53" height="2.53"/><rect x="882.42" y="1324.78" width="2.53" height="2.53"/><rect x="825.20" y="1327.16" width="2.53" height="2.53"/><rect x="827.58" y="1327.16" width="2.53" height="2.53"/><rect x="829.97" y="1327.16" width="2.53" height="2.53"/><rect x="837.12" y="1327.16" width="2.53" height="2.53"/><rect x="844.27" y="1327.16" width="2.53" height="2.53"/><rect x="849.04" y="1327.16" width="2.53" height="2.53"/><rect x="851.42" y="1327.16" width="2.53" height="2.53"/><rect x="856.19" y="1327.16" width="2.53" height="2.53"/><rect x="865.73" y="1327.16" width="2.53" height="2.53"/><rect x="875.26" y="1327.16" width="2.53" height="2.53"/><rect x="877.65" y="1327.16" width="2.53" height="2.53"/><rect x="880.03" y="1327.16" width="2.53" height="2.53"/><rect x="882.42" y="1327.16" width="2.53" height="2.53"/><rect x="825.20" y="1329.54" width="2.53" height="2.53"/><rect x="829.97" y="1329.54" width="2.53" height="2.53"/><rect x="832.35" y="1329.54" width="2.53" height="2.53"/><rect x="834.74" y="1329.54" width="2.53" height="2.53"/><rect x="839.50" y="1329.54" width="2.53" height="2.53"/><rect x="844.27" y="1329.54" width="2.53" height="2.53"/><rect x="846.66" y="1329.54" width="2.53" height="2.53"/><rect x="849.04" y="1329.54" width="2.53" height="2.53"/><rect x="851.42" y="1329.54" width="2.53" height="2.53"/><rect x="853.81" y="1329.54" width="2.53" height="2.53"/><rect x="856.19" y="1329.54" width="2.53" height="2.53"/><rect x="858.58" y="1329.54" width="2.53" height="2.53"/><rect x="863.34" y="1329.54" width="2.53" height="2.53"/><rect x="865.73" y="1329.54" width="2.53" height="2.53"/><rect x="868.11" y="1329.54" width="2.53" height="2.53"/><rect x="870.50" y="1329.54" width="2.53" height="2.53"/><rect x="872.88" y="1329.54" width="2.53" height="2.53"/><rect x="875.26" y="1329.54" width="2.53" height="2.53"/><rect x="877.65" y="1329.54" width="2.53" height="2.53"/><rect x="880.03" y="1329.54" width="2.53" height="2.53"/><rect x="882.42" y="1329.54" width="2.53" height="2.53"/><rect x="844.27" y="1331.93" width="2.53" height="2.53"/><rect x="846.66" y="1331.93" width="2.53" height="2.53"/><rect x="849.04" y="1331.93" width="2.53" height="2.53"/><rect x="863.34" y="1331.93" width="2.53" height="2.53"/><rect x="872.88" y="1331.93" width="2.53" height="2.53"/><rect x="880.03" y="1331.93" width="2.53" height="2.53"/><rect x="825.20" y="1334.31" width="2.53" height="2.53"/><rect x="827.58" y="1334.31" width="2.53" height="2.53"/><rect x="829.97" y="1334.31" width="2.53" height="2.53"/><rect x="832.35" y="1334.31" width="2.53" height="2.53"/><rect x="834.74" y="1334.31" width="2.53" height="2.53"/><rect x="837.12" y="1334.31" width="2.53" height="2.53"/><rect x="839.50" y="1334.31" width="2.53" height="2.53"/><rect x="858.58" y="1334.31" width="2.53" height="2.53"/><rect x="860.96" y="1334.31" width="2.53" height="2.53"/><rect x="863.34" y="1334.31" width="2.53" height="2.53"/><rect x="868.11" y="1334.31" width="2.53" height="2.53"/><rect x="872.88" y="1334.31" width="2.53" height="2.53"/><rect x="882.42" y="1334.31" width="2.53" height="2.53"/><rect x="825.20" y="1336.70" width="2.53" height="2.53"/><rect x="839.50" y="1336.70" width="2.53" height="2.53"/><rect x="844.27" y="1336.70" width="2.53" height="2.53"/><rect x="846.66" y="1336.70" width="2.53" height="2.53"/><rect x="849.04" y="1336.70" width="2.53" height="2.53"/><rect x="853.81" y="1336.70" width="2.53" height="2.53"/><rect x="860.96" y="1336.70" width="2.53" height="2.53"/><rect x="863.34" y="1336.70" width="2.53" height="2.53"/><rect x="872.88" y="1336.70" width="2.53" height="2.53"/><rect x="877.65" y="1336.70" width="2.53" height="2.53"/><rect x="880.03" y="1336.70" width="2.53" height="2.53"/><rect x="882.42" y="1336.70" width="2.53" height="2.53"/><rect x="825.20" y="1339.08" width="2.53" height="2.53"/><rect x="829.97" y="1339.08" width="2.53" height="2.53"/><rect x="832.35" y="1339.08" width="2.53" height="2.53"/><rect x="834.74" y="1339.08" width="2.53" height="2.53"/><rect x="839.50" y="1339.08" width="2.53" height="2.53"/><rect x="846.66" y="1339.08" width="2.53" height="2.53"/><rect x="851.42" y="1339.08" width="2.53" height="2.53"/><rect x="853.81" y="1339.08" width="2.53" height="2.53"/><rect x="856.19" y="1339.08" width="2.53" height="2.53"/><rect x="860.96" y="1339.08" width="2.53" height="2.53"/><rect x="863.34" y="1339.08" width="2.53" height="2.53"/><rect x="865.73" y="1339.08" width="2.53" height="2.53"/><rect x="868.11" y="1339.08" width="2.53" height="2.53"/><rect x="870.50" y="1339.08" width="2.53" height="2.53"/><rect x="872.88" y="1339.08" width="2.53" height="2.53"/><rect x="877.65" y="1339.08" width="2.53" height="2.53"/><rect x="880.03" y="1339.08" width="2.53" height="2.53"/><rect x="882.42" y="1339.08" width="2.53" height="2.53"/><rect x="825.20" y="1341.46" width="2.53" height="2.53"/><rect x="829.97" y="1341.46" width="2.53" height="2.53"/><rect x="832.35" y="1341.46" width="2.53" height="2.53"/><rect x="834.74" y="1341.46" width="2.53" height="2.53"/><rect x="839.50" y="1341.46" width="2.53" height="2.53"/><rect x="851.42" y="1341.46" width="2.53" height="2.53"/><rect x="856.19" y="1341.46" width="2.53" height="2.53"/><rect x="858.58" y="1341.46" width="2.53" height="2.53"/><rect x="860.96" y="1341.46" width="2.53" height="2.53"/><rect x="863.34" y="1341.46" width="2.53" height="2.53"/><rect x="865.73" y="1341.46" width="2.53" height="2.53"/><rect x="868.11" y="1341.46" width="2.53" height="2.53"/><rect x="870.50" y="1341.46" width="2.53" height="2.53"/><rect x="872.88" y="1341.46" width="2.53" height="2.53"/><rect x="875.26" y="1341.46" width="2.53" height="2.53"/><rect x="880.03" y="1341.46" width="2.53" height="2.53"/><rect x="825.20" y="1343.85" width="2.53" height="2.53"/><rect x="829.97" y="1343.85" width="2.53" height="2.53"/><rect x="832.35" y="1343.85" width="2.53" height="2.53"/><rect x="834.74" y="1343.85" width="2.53" height="2.53"/><rect x="839.50" y="1343.85" width="2.53" height="2.53"/><rect x="849.04" y="1343.85" width="2.53" height="2.53"/><rect x="851.42" y="1343.85" width="2.53" height="2.53"/><rect x="853.81" y="1343.85" width="2.53" height="2.53"/><rect x="856.19" y="1343.85" width="2.53" height="2.53"/><rect x="858.58" y="1343.85" width="2.53" height="2.53"/><rect x="863.34" y="1343.85" width="2.53" height="2.53"/><rect x="868.11" y="1343.85" width="2.53" height="2.53"/><rect x="870.50" y="1343.85" width="2.53" height="2.53"/><rect x="875.26" y="1343.85" width="2.53" height="2.53"/><rect x="877.65" y="1343.85" width="2.53" height="2.53"/><rect x="825.20" y="1346.23" width="2.53" height="2.53"/><rect x="839.50" y="1346.23" width="2.53" height="2.53"/><rect x="844.27" y="1346.23" width="2.53" height="2.53"/><rect x="851.42" y="1346.23" width="2.53" height="2.53"/><rect x="853.81" y="1346.23" width="2.53" height="2.53"/><rect x="858.58" y="1346.23" width="2.53" height="2.53"/><rect x="860.96" y="1346.23" width="2.53" height="2.53"/><rect x="863.34" y="1346.23" width="2.53" height="2.53"/><rect x="865.73" y="1346.23" width="2.53" height="2.53"/><rect x="872.88" y="1346.23" width="2.53" height="2.53"/><rect x="877.65" y="1346.23" width="2.53" height="2.53"/><rect x="882.42" y="1346.23" width="2.53" height="2.53"/><rect x="825.20" y="1348.62" width="2.53" height="2.53"/><rect x="827.58" y="1348.62" width="2.53" height="2.53"/><rect x="829.97" y="1348.62" width="2.53" height="2.53"/><rect x="832.35" y="1348.62" width="2.53" height="2.53"/><rect x="834.74" y="1348.62" width="2.53" height="2.53"/><rect x="837.12" y="1348.62" width="2.53" height="2.53"/><rect x="839.50" y="1348.62" width="2.53" height="2.53"/><rect x="844.27" y="1348.62" width="2.53" height="2.53"/><rect x="846.66" y="1348.62" width="2.53" height="2.53"/><rect x="849.04" y="1348.62" width="2.53" height="2.53"/><rect x="851.42" y="1348.62" width="2.53" height="2.53"/><rect x="853.81" y="1348.62" width="2.53" height="2.53"/><rect x="856.19" y="1348.62" width="2.53" height="2.53"/><rect x="858.58" y="1348.62" width="2.53" height="2.53"/><rect x="860.96" y="1348.62" width="2.53" height="2.53"/><rect x="870.50" y="1348.62" width="2.53" height="2.53"/><rect x="872.88" y="1348.62" width="2.53" height="2.53"/><rect x="877.65" y="1348.62" width="2.53" height="2.53"/><rect x="880.03" y="1348.62" width="2.53" height="2.53"/><rect x="882.42" y="1348.62" width="2.53" height="2.53"/></g></svg>
<div class="cell " style="left:153.3px;top:1300.6px;width:214.09999999999997px;height:19.0px;font-size:13px;color:#333"><div>标准品名：轴承</div></div>
<div class="cell " style="left:153.3px;top:1319.6px;width:59.39999999999998px;height:18.40000000000009px;font-size:14px;color:#333"><div><span class="cn" style="width:13px;height:13px;line-height:13px;font-size:10px">1</span>类型码</div></div>
<div class="cell " style="left:212.7px;top:1319.6px;width:17.700000000000017px;height:18.40000000000009px;font-size:12px;color:#333"><div>–</div></div>
<div class="cell " style="left:230.4px;top:1319.6px;width:59.900000000000006px;height:18.40000000000009px;font-size:12.5px;color:#333"><div><span class="cn" style="width:13px;height:13px;line-height:13px;font-size:10px">2</span>A</div></div>
<div class="cell " style="left:290.3px;top:1319.6px;width:17.69999999999999px;height:18.40000000000009px;font-size:12px;color:#333"><div>–</div></div>
<div class="cell " style="left:308px;top:1319.6px;width:59.39999999999998px;height:18.40000000000009px;font-size:12.5px;color:#333"><div><span class="cn" style="width:13px;height:13px;line-height:13px;font-size:10px">3</span>D</div></div>
<div class="cell bl" style="left:153.3px;top:1338px;width:59.39999999999998px;height:19px;font-size:12.5px"><div><span class="cd">BCHA</span></div></div>
<div class="cell bl" style="left:212.7px;top:1338px;width:17.700000000000017px;height:19px;font-size:12.5px"><div>–</div></div>
<div class="cell bl" style="left:230.4px;top:1338px;width:59.900000000000006px;height:19px;font-size:12.5px"><div>A20</div></div>
<div class="cell bl" style="left:290.3px;top:1338px;width:17.69999999999999px;height:19px;font-size:12.5px"><div>–</div></div>
<div class="cell bl" style="left:308px;top:1338px;width:59.39999999999998px;height:19px;font-size:12.5px"><div>D47</div></div>
<div class="a" style="left:84px;top:1313.5px;font-size:13.2px;line-height:16px;color:#555;letter-spacing:1px">订购范例</div>
<div class="a" style="left:83.5px;top:1329.5px;font-size:13.5px;line-height:16px;color:#555;letter-spacing:3.7px;font-family:Liberation Mono">Order</div>
<div class="a" style="left:643px;top:1313px;font-size:13px;line-height:16px;color:#555;letter-spacing:9px">交货期</div>
<div class="a" style="left:643px;top:1329px;font-size:12px;line-height:16px;color:#555;letter-spacing:0px;font-family:Liberation Mono">Delivery</div>
<div class="a" style="left:722px;top:1315px;font-size:23px;line-height:28px;color:#222;font-style:italic">3</div>
<div class="a" style="left:753.5px;top:1321.5px;font-size:13.7px;line-height:16px;color:#222">天发货</div>
<div class="a" style="left:830px;top:1352px;font-size:12.4px;line-height:15px;color:#333">扫码查价</div></body></html>
